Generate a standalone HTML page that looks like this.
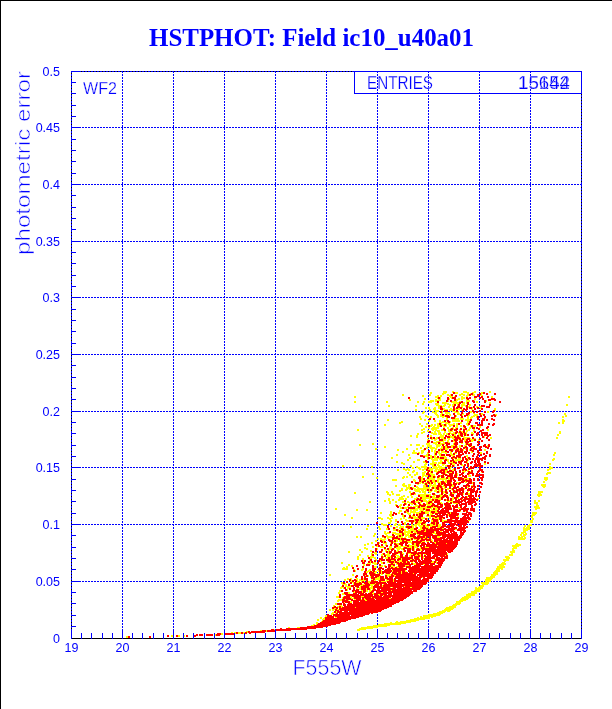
<!DOCTYPE html>
<html><head><meta charset="utf-8"><title>HSTPHOT: Field ic10_u40a01</title><style>html,body{margin:0;padding:0;background:#fff;}body{width:612px;height:709px;overflow:hidden;position:relative;}svg{position:absolute;left:0;top:0;display:block;}text{font-family:"Liberation Sans",Arial,sans-serif;fill:#00f;}.th{stroke:#fff;stroke-width:0.6px;}.tm{stroke:#fff;stroke-width:0.25px;}.t{font-family:"Liberation Serif","Times New Roman",serif;font-weight:bold;font-size:26px;}</style></head><body>
<svg width="612" height="709" viewBox="0 0 612 709">
<rect width="612" height="709" fill="#fff"/><g shape-rendering="crispEdges"><rect x="0" y="0" width="612" height="1" fill="#000"/><rect x="0" y="0" width="1" height="709" fill="#000"/><path fill="none" stroke="#000" d="M71 71.5h511M71 638.5h511M71.5 71v568M581.5 71v568"/>
<path fill="none" stroke="#00f" transform="translate(.5 0)" d="M71 71v2M71 74v2M71 77v2M71 80v2M71 83v2M71 86v2M71 89v2M71 92v2M71 95v2M71 98v2M71 101v2M71 104v2M71 107v2M71 110v2M71 113v2M71 116v2M71 119v2M71 122v2M71 125v2M71 128v2M71 131v2M71 134v2M71 137v2M71 140v2M71 143v2M71 146v2M71 149v2M71 152v2M71 155v2M71 158v2M71 161v2M71 164v2M71 167v2M71 170v2M71 173v2M71 176v2M71 179v2M71 182v2M71 185v2M71 188v2M71 191v2M71 194v2M71 197v2M71 200v2M71 203v2M71 206v2M71 209v2M71 212v2M71 215v2M71 218v2M71 221v2M71 224v2M71 227v2M71 230v2M71 233v2M71 236v2M71 239v2M71 242v2M71 245v2M71 248v2M71 251v2M71 254v2M71 257v2M71 260v2M71 263v2M71 266v2M71 269v2M71 272v2M71 275v2M71 278v2M71 281v2M71 284v2M71 287v2M71 290v2M71 293v2M71 296v2M71 299v2M71 302v2M71 305v2M71 308v2M71 311v2M71 314v2M71 317v2M71 320v2M71 323v2M71 326v2M71 329v2M71 332v2M71 335v2M71 338v2M71 341v2M71 344v2M71 347v2M71 350v2M71 353v2M71 356v2M71 359v2M71 362v2M71 365v2M71 368v2M71 371v2M71 374v2M71 377v2M71 380v2M71 383v2M71 386v2M71 389v2M71 392v2M71 395v2M71 398v2M71 401v2M71 404v2M71 407v2M71 410v2M71 413v2M71 416v2M71 419v2M71 422v2M71 425v2M71 428v2M71 431v2M71 434v2M71 437v2M71 440v2M71 443v2M71 446v2M71 449v2M71 452v2M71 455v2M71 458v2M71 461v2M71 464v2M71 467v2M71 470v2M71 473v2M71 476v2M71 479v2M71 482v2M71 485v2M71 488v2M71 491v2M71 494v2M71 497v2M71 500v2M71 503v2M71 506v2M71 509v2M71 512v2M71 515v2M71 518v2M71 521v2M71 524v2M71 527v2M71 530v2M71 533v2M71 536v2M71 539v2M71 542v2M71 545v2M71 548v2M71 551v2M71 554v2M71 557v2M71 560v2M71 563v2M71 566v2M71 569v2M71 572v2M71 575v2M71 578v2M71 581v2M71 584v2M71 587v2M71 590v2M71 593v2M71 596v2M71 599v2M71 602v2M71 605v2M71 608v2M71 611v2M71 614v2M71 617v2M71 620v2M71 623v2M71 626v2M71 629v2M71 632v2M71 635v2M122 71v2M122 74v2M122 77v2M122 80v2M122 83v2M122 86v2M122 89v2M122 92v2M122 95v2M122 98v2M122 101v2M122 104v2M122 107v2M122 110v2M122 113v2M122 116v2M122 119v2M122 122v2M122 125v2M122 128v2M122 131v2M122 134v2M122 137v2M122 140v2M122 143v2M122 146v2M122 149v2M122 152v2M122 155v2M122 158v2M122 161v2M122 164v2M122 167v2M122 170v2M122 173v2M122 176v2M122 179v2M122 182v2M122 185v2M122 188v2M122 191v2M122 194v2M122 197v2M122 200v2M122 203v2M122 206v2M122 209v2M122 212v2M122 215v2M122 218v2M122 221v2M122 224v2M122 227v2M122 230v2M122 233v2M122 236v2M122 239v2M122 242v2M122 245v2M122 248v2M122 251v2M122 254v2M122 257v2M122 260v2M122 263v2M122 266v2M122 269v2M122 272v2M122 275v2M122 278v2M122 281v2M122 284v2M122 287v2M122 290v2M122 293v2M122 296v2M122 299v2M122 302v2M122 305v2M122 308v2M122 311v2M122 314v2M122 317v2M122 320v2M122 323v2M122 326v2M122 329v2M122 332v2M122 335v2M122 338v2M122 341v2M122 344v2M122 347v2M122 350v2M122 353v2M122 356v2M122 359v2M122 362v2M122 365v2M122 368v2M122 371v2M122 374v2M122 377v2M122 380v2M122 383v2M122 386v2M122 389v2M122 392v2M122 395v2M122 398v2M122 401v2M122 404v2M122 407v2M122 410v2M122 413v2M122 416v2M122 419v2M122 422v2M122 425v2M122 428v2M122 431v2M122 434v2M122 437v2M122 440v2M122 443v2M122 446v2M122 449v2M122 452v2M122 455v2M122 458v2M122 461v2M122 464v2M122 467v2M122 470v2M122 473v2M122 476v2M122 479v2M122 482v2M122 485v2M122 488v2M122 491v2M122 494v2M122 497v2M122 500v2M122 503v2M122 506v2M122 509v2M122 512v2M122 515v2M122 518v2M122 521v2M122 524v2M122 527v2M122 530v2M122 533v2M122 536v2M122 539v2M122 542v2M122 545v2M122 548v2M122 551v2M122 554v2M122 557v2M122 560v2M122 563v2M122 566v2M122 569v2M122 572v2M122 575v2M122 578v2M122 581v2M122 584v2M122 587v2M122 590v2M122 593v2M122 596v2M122 599v2M122 602v2M122 605v2M122 608v2M122 611v2M122 614v2M122 617v2M122 620v2M122 623v2M122 626v2M122 629v2M122 632v2M122 635v2M173 71v2M173 74v2M173 77v2M173 80v2M173 83v2M173 86v2M173 89v2M173 92v2M173 95v2M173 98v2M173 101v2M173 104v2M173 107v2M173 110v2M173 113v2M173 116v2M173 119v2M173 122v2M173 125v2M173 128v2M173 131v2M173 134v2M173 137v2M173 140v2M173 143v2M173 146v2M173 149v2M173 152v2M173 155v2M173 158v2M173 161v2M173 164v2M173 167v2M173 170v2M173 173v2M173 176v2M173 179v2M173 182v2M173 185v2M173 188v2M173 191v2M173 194v2M173 197v2M173 200v2M173 203v2M173 206v2M173 209v2M173 212v2M173 215v2M173 218v2M173 221v2M173 224v2M173 227v2M173 230v2M173 233v2M173 236v2M173 239v2M173 242v2M173 245v2M173 248v2M173 251v2M173 254v2M173 257v2M173 260v2M173 263v2M173 266v2M173 269v2M173 272v2M173 275v2M173 278v2M173 281v2M173 284v2M173 287v2M173 290v2M173 293v2M173 296v2M173 299v2M173 302v2M173 305v2M173 308v2M173 311v2M173 314v2M173 317v2M173 320v2M173 323v2M173 326v2M173 329v2M173 332v2M173 335v2M173 338v2M173 341v2M173 344v2M173 347v2M173 350v2M173 353v2M173 356v2M173 359v2M173 362v2M173 365v2M173 368v2M173 371v2M173 374v2M173 377v2M173 380v2M173 383v2M173 386v2M173 389v2M173 392v2M173 395v2M173 398v2M173 401v2M173 404v2M173 407v2M173 410v2M173 413v2M173 416v2M173 419v2M173 422v2M173 425v2M173 428v2M173 431v2M173 434v2M173 437v2M173 440v2M173 443v2M173 446v2M173 449v2M173 452v2M173 455v2M173 458v2M173 461v2M173 464v2M173 467v2M173 470v2M173 473v2M173 476v2M173 479v2M173 482v2M173 485v2M173 488v2M173 491v2M173 494v2M173 497v2M173 500v2M173 503v2M173 506v2M173 509v2M173 512v2M173 515v2M173 518v2M173 521v2M173 524v2M173 527v2M173 530v2M173 533v2M173 536v2M173 539v2M173 542v2M173 545v2M173 548v2M173 551v2M173 554v2M173 557v2M173 560v2M173 563v2M173 566v2M173 569v2M173 572v2M173 575v2M173 578v2M173 581v2M173 584v2M173 587v2M173 590v2M173 593v2M173 596v2M173 599v2M173 602v2M173 605v2M173 608v2M173 611v2M173 614v2M173 617v2M173 620v2M173 623v2M173 626v2M173 629v2M173 632v2M173 635v2M224 71v2M224 74v2M224 77v2M224 80v2M224 83v2M224 86v2M224 89v2M224 92v2M224 95v2M224 98v2M224 101v2M224 104v2M224 107v2M224 110v2M224 113v2M224 116v2M224 119v2M224 122v2M224 125v2M224 128v2M224 131v2M224 134v2M224 137v2M224 140v2M224 143v2M224 146v2M224 149v2M224 152v2M224 155v2M224 158v2M224 161v2M224 164v2M224 167v2M224 170v2M224 173v2M224 176v2M224 179v2M224 182v2M224 185v2M224 188v2M224 191v2M224 194v2M224 197v2M224 200v2M224 203v2M224 206v2M224 209v2M224 212v2M224 215v2M224 218v2M224 221v2M224 224v2M224 227v2M224 230v2M224 233v2M224 236v2M224 239v2M224 242v2M224 245v2M224 248v2M224 251v2M224 254v2M224 257v2M224 260v2M224 263v2M224 266v2M224 269v2M224 272v2M224 275v2M224 278v2M224 281v2M224 284v2M224 287v2M224 290v2M224 293v2M224 296v2M224 299v2M224 302v2M224 305v2M224 308v2M224 311v2M224 314v2M224 317v2M224 320v2M224 323v2M224 326v2M224 329v2M224 332v2M224 335v2M224 338v2M224 341v2M224 344v2M224 347v2M224 350v2M224 353v2M224 356v2M224 359v2M224 362v2M224 365v2M224 368v2M224 371v2M224 374v2M224 377v2M224 380v2M224 383v2M224 386v2M224 389v2M224 392v2M224 395v2M224 398v2M224 401v2M224 404v2M224 407v2M224 410v2M224 413v2M224 416v2M224 419v2M224 422v2M224 425v2M224 428v2M224 431v2M224 434v2M224 437v2M224 440v2M224 443v2M224 446v2M224 449v2M224 452v2M224 455v2M224 458v2M224 461v2M224 464v2M224 467v2M224 470v2M224 473v2M224 476v2M224 479v2M224 482v2M224 485v2M224 488v2M224 491v2M224 494v2M224 497v2M224 500v2M224 503v2M224 506v2M224 509v2M224 512v2M224 515v2M224 518v2M224 521v2M224 524v2M224 527v2M224 530v2M224 533v2M224 536v2M224 539v2M224 542v2M224 545v2M224 548v2M224 551v2M224 554v2M224 557v2M224 560v2M224 563v2M224 566v2M224 569v2M224 572v2M224 575v2M224 578v2M224 581v2M224 584v2M224 587v2M224 590v2M224 593v2M224 596v2M224 599v2M224 602v2M224 605v2M224 608v2M224 611v2M224 614v2M224 617v2M224 620v2M224 623v2M224 626v2M224 629v2M224 632v2M224 635v2M275 71v2M275 74v2M275 77v2M275 80v2M275 83v2M275 86v2M275 89v2M275 92v2M275 95v2M275 98v2M275 101v2M275 104v2M275 107v2M275 110v2M275 113v2M275 116v2M275 119v2M275 122v2M275 125v2M275 128v2M275 131v2M275 134v2M275 137v2M275 140v2M275 143v2M275 146v2M275 149v2M275 152v2M275 155v2M275 158v2M275 161v2M275 164v2M275 167v2M275 170v2M275 173v2M275 176v2M275 179v2M275 182v2M275 185v2M275 188v2M275 191v2M275 194v2M275 197v2M275 200v2M275 203v2M275 206v2M275 209v2M275 212v2M275 215v2M275 218v2M275 221v2M275 224v2M275 227v2M275 230v2M275 233v2M275 236v2M275 239v2M275 242v2M275 245v2M275 248v2M275 251v2M275 254v2M275 257v2M275 260v2M275 263v2M275 266v2M275 269v2M275 272v2M275 275v2M275 278v2M275 281v2M275 284v2M275 287v2M275 290v2M275 293v2M275 296v2M275 299v2M275 302v2M275 305v2M275 308v2M275 311v2M275 314v2M275 317v2M275 320v2M275 323v2M275 326v2M275 329v2M275 332v2M275 335v2M275 338v2M275 341v2M275 344v2M275 347v2M275 350v2M275 353v2M275 356v2M275 359v2M275 362v2M275 365v2M275 368v2M275 371v2M275 374v2M275 377v2M275 380v2M275 383v2M275 386v2M275 389v2M275 392v2M275 395v2M275 398v2M275 401v2M275 404v2M275 407v2M275 410v2M275 413v2M275 416v2M275 419v2M275 422v2M275 425v2M275 428v2M275 431v2M275 434v2M275 437v2M275 440v2M275 443v2M275 446v2M275 449v2M275 452v2M275 455v2M275 458v2M275 461v2M275 464v2M275 467v2M275 470v2M275 473v2M275 476v2M275 479v2M275 482v2M275 485v2M275 488v2M275 491v2M275 494v2M275 497v2M275 500v2M275 503v2M275 506v2M275 509v2M275 512v2M275 515v2M275 518v2M275 521v2M275 524v2M275 527v2M275 530v2M275 533v2M275 536v2M275 539v2M275 542v2M275 545v2M275 548v2M275 551v2M275 554v2M275 557v2M275 560v2M275 563v2M275 566v2M275 569v2M275 572v2M275 575v2M275 578v2M275 581v2M275 584v2M275 587v2M275 590v2M275 593v2M275 596v2M275 599v2M275 602v2M275 605v2M275 608v2M275 611v2M275 614v2M275 617v2M275 620v2M275 623v2M275 626v2M275 629v2M275 632v2M275 635v2M326 71v2M326 74v2M326 77v2M326 80v2M326 83v2M326 86v2M326 89v2M326 92v2M326 95v2M326 98v2M326 101v2M326 104v2M326 107v2M326 110v2M326 113v2M326 116v2M326 119v2M326 122v2M326 125v2M326 128v2M326 131v2M326 134v2M326 137v2M326 140v2M326 143v2M326 146v2M326 149v2M326 152v2M326 155v2M326 158v2M326 161v2M326 164v2M326 167v2M326 170v2M326 173v2M326 176v2M326 179v2M326 182v2M326 185v2M326 188v2M326 191v2M326 194v2M326 197v2M326 200v2M326 203v2M326 206v2M326 209v2M326 212v2M326 215v2M326 218v2M326 221v2M326 224v2M326 227v2M326 230v2M326 233v2M326 236v2M326 239v2M326 242v2M326 245v2M326 248v2M326 251v2M326 254v2M326 257v2M326 260v2M326 263v2M326 266v2M326 269v2M326 272v2M326 275v2M326 278v2M326 281v2M326 284v2M326 287v2M326 290v2M326 293v2M326 296v2M326 299v2M326 302v2M326 305v2M326 308v2M326 311v2M326 314v2M326 317v2M326 320v2M326 323v2M326 326v2M326 329v2M326 332v2M326 335v2M326 338v2M326 341v2M326 344v2M326 347v2M326 350v2M326 353v2M326 356v2M326 359v2M326 362v2M326 365v2M326 368v2M326 371v2M326 374v2M326 377v2M326 380v2M326 383v2M326 386v2M326 389v2M326 392v2M326 395v2M326 398v2M326 401v2M326 404v2M326 407v2M326 410v2M326 413v2M326 416v2M326 419v2M326 422v2M326 425v2M326 428v2M326 431v2M326 434v2M326 437v2M326 440v2M326 443v2M326 446v2M326 449v2M326 452v2M326 455v2M326 458v2M326 461v2M326 464v2M326 467v2M326 470v2M326 473v2M326 476v2M326 479v2M326 482v2M326 485v2M326 488v2M326 491v2M326 494v2M326 497v2M326 500v2M326 503v2M326 506v2M326 509v2M326 512v2M326 515v2M326 518v2M326 521v2M326 524v2M326 527v2M326 530v2M326 533v2M326 536v2M326 539v2M326 542v2M326 545v2M326 548v2M326 551v2M326 554v2M326 557v2M326 560v2M326 563v2M326 566v2M326 569v2M326 572v2M326 575v2M326 578v2M326 581v2M326 584v2M326 587v2M326 590v2M326 593v2M326 596v2M326 599v2M326 602v2M326 605v2M326 608v2M326 611v2M326 614v2M326 617v2M326 620v2M326 623v2M326 626v2M326 629v2M326 632v2M326 635v2M377 71v2M377 74v2M377 77v2M377 80v2M377 83v2M377 86v2M377 89v2M377 92v2M377 95v2M377 98v2M377 101v2M377 104v2M377 107v2M377 110v2M377 113v2M377 116v2M377 119v2M377 122v2M377 125v2M377 128v2M377 131v2M377 134v2M377 137v2M377 140v2M377 143v2M377 146v2M377 149v2M377 152v2M377 155v2M377 158v2M377 161v2M377 164v2M377 167v2M377 170v2M377 173v2M377 176v2M377 179v2M377 182v2M377 185v2M377 188v2M377 191v2M377 194v2M377 197v2M377 200v2M377 203v2M377 206v2M377 209v2M377 212v2M377 215v2M377 218v2M377 221v2M377 224v2M377 227v2M377 230v2M377 233v2M377 236v2M377 239v2M377 242v2M377 245v2M377 248v2M377 251v2M377 254v2M377 257v2M377 260v2M377 263v2M377 266v2M377 269v2M377 272v2M377 275v2M377 278v2M377 281v2M377 284v2M377 287v2M377 290v2M377 293v2M377 296v2M377 299v2M377 302v2M377 305v2M377 308v2M377 311v2M377 314v2M377 317v2M377 320v2M377 323v2M377 326v2M377 329v2M377 332v2M377 335v2M377 338v2M377 341v2M377 344v2M377 347v2M377 350v2M377 353v2M377 356v2M377 359v2M377 362v2M377 365v2M377 368v2M377 371v2M377 374v2M377 377v2M377 380v2M377 383v2M377 386v2M377 389v2M377 392v2M377 395v2M377 398v2M377 401v2M377 404v2M377 407v2M377 410v2M377 413v2M377 416v2M377 419v2M377 422v2M377 425v2M377 428v2M377 431v2M377 434v2M377 437v2M377 440v2M377 443v2M377 446v2M377 449v2M377 452v2M377 455v2M377 458v2M377 461v2M377 464v2M377 467v2M377 470v2M377 473v2M377 476v2M377 479v2M377 482v2M377 485v2M377 488v2M377 491v2M377 494v2M377 497v2M377 500v2M377 503v2M377 506v2M377 509v2M377 512v2M377 515v2M377 518v2M377 521v2M377 524v2M377 527v2M377 530v2M377 533v2M377 536v2M377 539v2M377 542v2M377 545v2M377 548v2M377 551v2M377 554v2M377 557v2M377 560v2M377 563v2M377 566v2M377 569v2M377 572v2M377 575v2M377 578v2M377 581v2M377 584v2M377 587v2M377 590v2M377 593v2M377 596v2M377 599v2M377 602v2M377 605v2M377 608v2M377 611v2M377 614v2M377 617v2M377 620v2M377 623v2M377 626v2M377 629v2M377 632v2M377 635v2M428 71v2M428 74v2M428 77v2M428 80v2M428 83v2M428 86v2M428 89v2M428 92v2M428 95v2M428 98v2M428 101v2M428 104v2M428 107v2M428 110v2M428 113v2M428 116v2M428 119v2M428 122v2M428 125v2M428 128v2M428 131v2M428 134v2M428 137v2M428 140v2M428 143v2M428 146v2M428 149v2M428 152v2M428 155v2M428 158v2M428 161v2M428 164v2M428 167v2M428 170v2M428 173v2M428 176v2M428 179v2M428 182v2M428 185v2M428 188v2M428 191v2M428 194v2M428 197v2M428 200v2M428 203v2M428 206v2M428 209v2M428 212v2M428 215v2M428 218v2M428 221v2M428 224v2M428 227v2M428 230v2M428 233v2M428 236v2M428 239v2M428 242v2M428 245v2M428 248v2M428 251v2M428 254v2M428 257v2M428 260v2M428 263v2M428 266v2M428 269v2M428 272v2M428 275v2M428 278v2M428 281v2M428 284v2M428 287v2M428 290v2M428 293v2M428 296v2M428 299v2M428 302v2M428 305v2M428 308v2M428 311v2M428 314v2M428 317v2M428 320v2M428 323v2M428 326v2M428 329v2M428 332v2M428 335v2M428 338v2M428 341v2M428 344v2M428 347v2M428 350v2M428 353v2M428 356v2M428 359v2M428 362v2M428 365v2M428 368v2M428 371v2M428 374v2M428 377v2M428 380v2M428 383v2M428 386v2M428 389v2M428 392v2M428 395v2M428 398v2M428 401v2M428 404v2M428 407v2M428 410v2M428 413v2M428 416v2M428 419v2M428 422v2M428 425v2M428 428v2M428 431v2M428 434v2M428 437v2M428 440v2M428 443v2M428 446v2M428 449v2M428 452v2M428 455v2M428 458v2M428 461v2M428 464v2M428 467v2M428 470v2M428 473v2M428 476v2M428 479v2M428 482v2M428 485v2M428 488v2M428 491v2M428 494v2M428 497v2M428 500v2M428 503v2M428 506v2M428 509v2M428 512v2M428 515v2M428 518v2M428 521v2M428 524v2M428 527v2M428 530v2M428 533v2M428 536v2M428 539v2M428 542v2M428 545v2M428 548v2M428 551v2M428 554v2M428 557v2M428 560v2M428 563v2M428 566v2M428 569v2M428 572v2M428 575v2M428 578v2M428 581v2M428 584v2M428 587v2M428 590v2M428 593v2M428 596v2M428 599v2M428 602v2M428 605v2M428 608v2M428 611v2M428 614v2M428 617v2M428 620v2M428 623v2M428 626v2M428 629v2M428 632v2M428 635v2M479 71v2M479 74v2M479 77v2M479 80v2M479 83v2M479 86v2M479 89v2M479 92v2M479 95v2M479 98v2M479 101v2M479 104v2M479 107v2M479 110v2M479 113v2M479 116v2M479 119v2M479 122v2M479 125v2M479 128v2M479 131v2M479 134v2M479 137v2M479 140v2M479 143v2M479 146v2M479 149v2M479 152v2M479 155v2M479 158v2M479 161v2M479 164v2M479 167v2M479 170v2M479 173v2M479 176v2M479 179v2M479 182v2M479 185v2M479 188v2M479 191v2M479 194v2M479 197v2M479 200v2M479 203v2M479 206v2M479 209v2M479 212v2M479 215v2M479 218v2M479 221v2M479 224v2M479 227v2M479 230v2M479 233v2M479 236v2M479 239v2M479 242v2M479 245v2M479 248v2M479 251v2M479 254v2M479 257v2M479 260v2M479 263v2M479 266v2M479 269v2M479 272v2M479 275v2M479 278v2M479 281v2M479 284v2M479 287v2M479 290v2M479 293v2M479 296v2M479 299v2M479 302v2M479 305v2M479 308v2M479 311v2M479 314v2M479 317v2M479 320v2M479 323v2M479 326v2M479 329v2M479 332v2M479 335v2M479 338v2M479 341v2M479 344v2M479 347v2M479 350v2M479 353v2M479 356v2M479 359v2M479 362v2M479 365v2M479 368v2M479 371v2M479 374v2M479 377v2M479 380v2M479 383v2M479 386v2M479 389v2M479 392v2M479 395v2M479 398v2M479 401v2M479 404v2M479 407v2M479 410v2M479 413v2M479 416v2M479 419v2M479 422v2M479 425v2M479 428v2M479 431v2M479 434v2M479 437v2M479 440v2M479 443v2M479 446v2M479 449v2M479 452v2M479 455v2M479 458v2M479 461v2M479 464v2M479 467v2M479 470v2M479 473v2M479 476v2M479 479v2M479 482v2M479 485v2M479 488v2M479 491v2M479 494v2M479 497v2M479 500v2M479 503v2M479 506v2M479 509v2M479 512v2M479 515v2M479 518v2M479 521v2M479 524v2M479 527v2M479 530v2M479 533v2M479 536v2M479 539v2M479 542v2M479 545v2M479 548v2M479 551v2M479 554v2M479 557v2M479 560v2M479 563v2M479 566v2M479 569v2M479 572v2M479 575v2M479 578v2M479 581v2M479 584v2M479 587v2M479 590v2M479 593v2M479 596v2M479 599v2M479 602v2M479 605v2M479 608v2M479 611v2M479 614v2M479 617v2M479 620v2M479 623v2M479 626v2M479 629v2M479 632v2M479 635v2M530 71v2M530 74v2M530 77v2M530 80v2M530 83v2M530 86v2M530 89v2M530 92v2M530 95v2M530 98v2M530 101v2M530 104v2M530 107v2M530 110v2M530 113v2M530 116v2M530 119v2M530 122v2M530 125v2M530 128v2M530 131v2M530 134v2M530 137v2M530 140v2M530 143v2M530 146v2M530 149v2M530 152v2M530 155v2M530 158v2M530 161v2M530 164v2M530 167v2M530 170v2M530 173v2M530 176v2M530 179v2M530 182v2M530 185v2M530 188v2M530 191v2M530 194v2M530 197v2M530 200v2M530 203v2M530 206v2M530 209v2M530 212v2M530 215v2M530 218v2M530 221v2M530 224v2M530 227v2M530 230v2M530 233v2M530 236v2M530 239v2M530 242v2M530 245v2M530 248v2M530 251v2M530 254v2M530 257v2M530 260v2M530 263v2M530 266v2M530 269v2M530 272v2M530 275v2M530 278v2M530 281v2M530 284v2M530 287v2M530 290v2M530 293v2M530 296v2M530 299v2M530 302v2M530 305v2M530 308v2M530 311v2M530 314v2M530 317v2M530 320v2M530 323v2M530 326v2M530 329v2M530 332v2M530 335v2M530 338v2M530 341v2M530 344v2M530 347v2M530 350v2M530 353v2M530 356v2M530 359v2M530 362v2M530 365v2M530 368v2M530 371v2M530 374v2M530 377v2M530 380v2M530 383v2M530 386v2M530 389v2M530 392v2M530 395v2M530 398v2M530 401v2M530 404v2M530 407v2M530 410v2M530 413v2M530 416v2M530 419v2M530 422v2M530 425v2M530 428v2M530 431v2M530 434v2M530 437v2M530 440v2M530 443v2M530 446v2M530 449v2M530 452v2M530 455v2M530 458v2M530 461v2M530 464v2M530 467v2M530 470v2M530 473v2M530 476v2M530 479v2M530 482v2M530 485v2M530 488v2M530 491v2M530 494v2M530 497v2M530 500v2M530 503v2M530 506v2M530 509v2M530 512v2M530 515v2M530 518v2M530 521v2M530 524v2M530 527v2M530 530v2M530 533v2M530 536v2M530 539v2M530 542v2M530 545v2M530 548v2M530 551v2M530 554v2M530 557v2M530 560v2M530 563v2M530 566v2M530 569v2M530 572v2M530 575v2M530 578v2M530 581v2M530 584v2M530 587v2M530 590v2M530 593v2M530 596v2M530 599v2M530 602v2M530 605v2M530 608v2M530 611v2M530 614v2M530 617v2M530 620v2M530 623v2M530 626v2M530 629v2M530 632v2M530 635v2M581 71v2M581 74v2M581 77v2M581 80v2M581 83v2M581 86v2M581 89v2M581 92v2M581 95v2M581 98v2M581 101v2M581 104v2M581 107v2M581 110v2M581 113v2M581 116v2M581 119v2M581 122v2M581 125v2M581 128v2M581 131v2M581 134v2M581 137v2M581 140v2M581 143v2M581 146v2M581 149v2M581 152v2M581 155v2M581 158v2M581 161v2M581 164v2M581 167v2M581 170v2M581 173v2M581 176v2M581 179v2M581 182v2M581 185v2M581 188v2M581 191v2M581 194v2M581 197v2M581 200v2M581 203v2M581 206v2M581 209v2M581 212v2M581 215v2M581 218v2M581 221v2M581 224v2M581 227v2M581 230v2M581 233v2M581 236v2M581 239v2M581 242v2M581 245v2M581 248v2M581 251v2M581 254v2M581 257v2M581 260v2M581 263v2M581 266v2M581 269v2M581 272v2M581 275v2M581 278v2M581 281v2M581 284v2M581 287v2M581 290v2M581 293v2M581 296v2M581 299v2M581 302v2M581 305v2M581 308v2M581 311v2M581 314v2M581 317v2M581 320v2M581 323v2M581 326v2M581 329v2M581 332v2M581 335v2M581 338v2M581 341v2M581 344v2M581 347v2M581 350v2M581 353v2M581 356v2M581 359v2M581 362v2M581 365v2M581 368v2M581 371v2M581 374v2M581 377v2M581 380v2M581 383v2M581 386v2M581 389v2M581 392v2M581 395v2M581 398v2M581 401v2M581 404v2M581 407v2M581 410v2M581 413v2M581 416v2M581 419v2M581 422v2M581 425v2M581 428v2M581 431v2M581 434v2M581 437v2M581 440v2M581 443v2M581 446v2M581 449v2M581 452v2M581 455v2M581 458v2M581 461v2M581 464v2M581 467v2M581 470v2M581 473v2M581 476v2M581 479v2M581 482v2M581 485v2M581 488v2M581 491v2M581 494v2M581 497v2M581 500v2M581 503v2M581 506v2M581 509v2M581 512v2M581 515v2M581 518v2M581 521v2M581 524v2M581 527v2M581 530v2M581 533v2M581 536v2M581 539v2M581 542v2M581 545v2M581 548v2M581 551v2M581 554v2M581 557v2M581 560v2M581 563v2M581 566v2M581 569v2M581 572v2M581 575v2M581 578v2M581 581v2M581 584v2M581 587v2M581 590v2M581 593v2M581 596v2M581 599v2M581 602v2M581 605v2M581 608v2M581 611v2M581 614v2M581 617v2M581 620v2M581 623v2M581 626v2M581 629v2M581 632v2M581 635v2"/>
<path fill="none" stroke="#00f" transform="translate(0 .5)" d="M71 581h1M73 581h2M76 581h2M79 581h2M82 581h2M85 581h2M88 581h2M91 581h2M94 581h2M97 581h2M100 581h2M103 581h2M106 581h2M109 581h2M112 581h2M115 581h2M118 581h2M121 581h2M124 581h2M127 581h2M130 581h2M133 581h2M136 581h2M139 581h2M142 581h2M145 581h2M148 581h2M151 581h2M154 581h2M157 581h2M160 581h2M163 581h2M166 581h2M169 581h2M172 581h2M175 581h2M178 581h2M181 581h2M184 581h2M187 581h2M190 581h2M193 581h2M196 581h2M199 581h2M202 581h2M205 581h2M208 581h2M211 581h2M214 581h2M217 581h2M220 581h2M223 581h2M226 581h2M229 581h2M232 581h2M235 581h2M238 581h2M241 581h2M244 581h2M247 581h2M250 581h2M253 581h2M256 581h2M259 581h2M262 581h2M265 581h2M268 581h2M271 581h2M274 581h2M277 581h2M280 581h2M283 581h2M286 581h2M289 581h2M292 581h2M295 581h2M298 581h2M301 581h2M304 581h2M307 581h2M310 581h2M313 581h2M316 581h2M319 581h2M322 581h2M325 581h2M328 581h2M331 581h2M334 581h2M337 581h2M340 581h2M343 581h2M346 581h2M349 581h2M352 581h2M355 581h2M358 581h2M361 581h2M364 581h2M367 581h2M370 581h2M373 581h2M376 581h2M379 581h2M382 581h2M385 581h2M388 581h2M391 581h2M394 581h2M397 581h2M400 581h2M403 581h2M406 581h2M409 581h2M412 581h2M415 581h2M418 581h2M421 581h2M424 581h2M427 581h2M430 581h2M433 581h2M436 581h2M439 581h2M442 581h2M445 581h2M448 581h2M451 581h2M454 581h2M457 581h2M460 581h2M463 581h2M466 581h2M469 581h2M472 581h2M475 581h2M478 581h2M481 581h2M484 581h2M487 581h2M490 581h2M493 581h2M496 581h2M499 581h2M502 581h2M505 581h2M508 581h2M511 581h2M514 581h2M517 581h2M520 581h2M523 581h2M526 581h2M529 581h2M532 581h2M535 581h2M538 581h2M541 581h2M544 581h2M547 581h2M550 581h2M553 581h2M556 581h2M559 581h2M562 581h2M565 581h2M568 581h2M571 581h2M574 581h2M577 581h2M580 581h2M71 524h1M73 524h2M76 524h2M79 524h2M82 524h2M85 524h2M88 524h2M91 524h2M94 524h2M97 524h2M100 524h2M103 524h2M106 524h2M109 524h2M112 524h2M115 524h2M118 524h2M121 524h2M124 524h2M127 524h2M130 524h2M133 524h2M136 524h2M139 524h2M142 524h2M145 524h2M148 524h2M151 524h2M154 524h2M157 524h2M160 524h2M163 524h2M166 524h2M169 524h2M172 524h2M175 524h2M178 524h2M181 524h2M184 524h2M187 524h2M190 524h2M193 524h2M196 524h2M199 524h2M202 524h2M205 524h2M208 524h2M211 524h2M214 524h2M217 524h2M220 524h2M223 524h2M226 524h2M229 524h2M232 524h2M235 524h2M238 524h2M241 524h2M244 524h2M247 524h2M250 524h2M253 524h2M256 524h2M259 524h2M262 524h2M265 524h2M268 524h2M271 524h2M274 524h2M277 524h2M280 524h2M283 524h2M286 524h2M289 524h2M292 524h2M295 524h2M298 524h2M301 524h2M304 524h2M307 524h2M310 524h2M313 524h2M316 524h2M319 524h2M322 524h2M325 524h2M328 524h2M331 524h2M334 524h2M337 524h2M340 524h2M343 524h2M346 524h2M349 524h2M352 524h2M355 524h2M358 524h2M361 524h2M364 524h2M367 524h2M370 524h2M373 524h2M376 524h2M379 524h2M382 524h2M385 524h2M388 524h2M391 524h2M394 524h2M397 524h2M400 524h2M403 524h2M406 524h2M409 524h2M412 524h2M415 524h2M418 524h2M421 524h2M424 524h2M427 524h2M430 524h2M433 524h2M436 524h2M439 524h2M442 524h2M445 524h2M448 524h2M451 524h2M454 524h2M457 524h2M460 524h2M463 524h2M466 524h2M469 524h2M472 524h2M475 524h2M478 524h2M481 524h2M484 524h2M487 524h2M490 524h2M493 524h2M496 524h2M499 524h2M502 524h2M505 524h2M508 524h2M511 524h2M514 524h2M517 524h2M520 524h2M523 524h2M526 524h2M529 524h2M532 524h2M535 524h2M538 524h2M541 524h2M544 524h2M547 524h2M550 524h2M553 524h2M556 524h2M559 524h2M562 524h2M565 524h2M568 524h2M571 524h2M574 524h2M577 524h2M580 524h2M71 467h1M73 467h2M76 467h2M79 467h2M82 467h2M85 467h2M88 467h2M91 467h2M94 467h2M97 467h2M100 467h2M103 467h2M106 467h2M109 467h2M112 467h2M115 467h2M118 467h2M121 467h2M124 467h2M127 467h2M130 467h2M133 467h2M136 467h2M139 467h2M142 467h2M145 467h2M148 467h2M151 467h2M154 467h2M157 467h2M160 467h2M163 467h2M166 467h2M169 467h2M172 467h2M175 467h2M178 467h2M181 467h2M184 467h2M187 467h2M190 467h2M193 467h2M196 467h2M199 467h2M202 467h2M205 467h2M208 467h2M211 467h2M214 467h2M217 467h2M220 467h2M223 467h2M226 467h2M229 467h2M232 467h2M235 467h2M238 467h2M241 467h2M244 467h2M247 467h2M250 467h2M253 467h2M256 467h2M259 467h2M262 467h2M265 467h2M268 467h2M271 467h2M274 467h2M277 467h2M280 467h2M283 467h2M286 467h2M289 467h2M292 467h2M295 467h2M298 467h2M301 467h2M304 467h2M307 467h2M310 467h2M313 467h2M316 467h2M319 467h2M322 467h2M325 467h2M328 467h2M331 467h2M334 467h2M337 467h2M340 467h2M343 467h2M346 467h2M349 467h2M352 467h2M355 467h2M358 467h2M361 467h2M364 467h2M367 467h2M370 467h2M373 467h2M376 467h2M379 467h2M382 467h2M385 467h2M388 467h2M391 467h2M394 467h2M397 467h2M400 467h2M403 467h2M406 467h2M409 467h2M412 467h2M415 467h2M418 467h2M421 467h2M424 467h2M427 467h2M430 467h2M433 467h2M436 467h2M439 467h2M442 467h2M445 467h2M448 467h2M451 467h2M454 467h2M457 467h2M460 467h2M463 467h2M466 467h2M469 467h2M472 467h2M475 467h2M478 467h2M481 467h2M484 467h2M487 467h2M490 467h2M493 467h2M496 467h2M499 467h2M502 467h2M505 467h2M508 467h2M511 467h2M514 467h2M517 467h2M520 467h2M523 467h2M526 467h2M529 467h2M532 467h2M535 467h2M538 467h2M541 467h2M544 467h2M547 467h2M550 467h2M553 467h2M556 467h2M559 467h2M562 467h2M565 467h2M568 467h2M571 467h2M574 467h2M577 467h2M580 467h2M71 411h1M73 411h2M76 411h2M79 411h2M82 411h2M85 411h2M88 411h2M91 411h2M94 411h2M97 411h2M100 411h2M103 411h2M106 411h2M109 411h2M112 411h2M115 411h2M118 411h2M121 411h2M124 411h2M127 411h2M130 411h2M133 411h2M136 411h2M139 411h2M142 411h2M145 411h2M148 411h2M151 411h2M154 411h2M157 411h2M160 411h2M163 411h2M166 411h2M169 411h2M172 411h2M175 411h2M178 411h2M181 411h2M184 411h2M187 411h2M190 411h2M193 411h2M196 411h2M199 411h2M202 411h2M205 411h2M208 411h2M211 411h2M214 411h2M217 411h2M220 411h2M223 411h2M226 411h2M229 411h2M232 411h2M235 411h2M238 411h2M241 411h2M244 411h2M247 411h2M250 411h2M253 411h2M256 411h2M259 411h2M262 411h2M265 411h2M268 411h2M271 411h2M274 411h2M277 411h2M280 411h2M283 411h2M286 411h2M289 411h2M292 411h2M295 411h2M298 411h2M301 411h2M304 411h2M307 411h2M310 411h2M313 411h2M316 411h2M319 411h2M322 411h2M325 411h2M328 411h2M331 411h2M334 411h2M337 411h2M340 411h2M343 411h2M346 411h2M349 411h2M352 411h2M355 411h2M358 411h2M361 411h2M364 411h2M367 411h2M370 411h2M373 411h2M376 411h2M379 411h2M382 411h2M385 411h2M388 411h2M391 411h2M394 411h2M397 411h2M400 411h2M403 411h2M406 411h2M409 411h2M412 411h2M415 411h2M418 411h2M421 411h2M424 411h2M427 411h2M430 411h2M433 411h2M436 411h2M439 411h2M442 411h2M445 411h2M448 411h2M451 411h2M454 411h2M457 411h2M460 411h2M463 411h2M466 411h2M469 411h2M472 411h2M475 411h2M478 411h2M481 411h2M484 411h2M487 411h2M490 411h2M493 411h2M496 411h2M499 411h2M502 411h2M505 411h2M508 411h2M511 411h2M514 411h2M517 411h2M520 411h2M523 411h2M526 411h2M529 411h2M532 411h2M535 411h2M538 411h2M541 411h2M544 411h2M547 411h2M550 411h2M553 411h2M556 411h2M559 411h2M562 411h2M565 411h2M568 411h2M571 411h2M574 411h2M577 411h2M580 411h2M71 354h1M73 354h2M76 354h2M79 354h2M82 354h2M85 354h2M88 354h2M91 354h2M94 354h2M97 354h2M100 354h2M103 354h2M106 354h2M109 354h2M112 354h2M115 354h2M118 354h2M121 354h2M124 354h2M127 354h2M130 354h2M133 354h2M136 354h2M139 354h2M142 354h2M145 354h2M148 354h2M151 354h2M154 354h2M157 354h2M160 354h2M163 354h2M166 354h2M169 354h2M172 354h2M175 354h2M178 354h2M181 354h2M184 354h2M187 354h2M190 354h2M193 354h2M196 354h2M199 354h2M202 354h2M205 354h2M208 354h2M211 354h2M214 354h2M217 354h2M220 354h2M223 354h2M226 354h2M229 354h2M232 354h2M235 354h2M238 354h2M241 354h2M244 354h2M247 354h2M250 354h2M253 354h2M256 354h2M259 354h2M262 354h2M265 354h2M268 354h2M271 354h2M274 354h2M277 354h2M280 354h2M283 354h2M286 354h2M289 354h2M292 354h2M295 354h2M298 354h2M301 354h2M304 354h2M307 354h2M310 354h2M313 354h2M316 354h2M319 354h2M322 354h2M325 354h2M328 354h2M331 354h2M334 354h2M337 354h2M340 354h2M343 354h2M346 354h2M349 354h2M352 354h2M355 354h2M358 354h2M361 354h2M364 354h2M367 354h2M370 354h2M373 354h2M376 354h2M379 354h2M382 354h2M385 354h2M388 354h2M391 354h2M394 354h2M397 354h2M400 354h2M403 354h2M406 354h2M409 354h2M412 354h2M415 354h2M418 354h2M421 354h2M424 354h2M427 354h2M430 354h2M433 354h2M436 354h2M439 354h2M442 354h2M445 354h2M448 354h2M451 354h2M454 354h2M457 354h2M460 354h2M463 354h2M466 354h2M469 354h2M472 354h2M475 354h2M478 354h2M481 354h2M484 354h2M487 354h2M490 354h2M493 354h2M496 354h2M499 354h2M502 354h2M505 354h2M508 354h2M511 354h2M514 354h2M517 354h2M520 354h2M523 354h2M526 354h2M529 354h2M532 354h2M535 354h2M538 354h2M541 354h2M544 354h2M547 354h2M550 354h2M553 354h2M556 354h2M559 354h2M562 354h2M565 354h2M568 354h2M571 354h2M574 354h2M577 354h2M580 354h2M71 297h1M73 297h2M76 297h2M79 297h2M82 297h2M85 297h2M88 297h2M91 297h2M94 297h2M97 297h2M100 297h2M103 297h2M106 297h2M109 297h2M112 297h2M115 297h2M118 297h2M121 297h2M124 297h2M127 297h2M130 297h2M133 297h2M136 297h2M139 297h2M142 297h2M145 297h2M148 297h2M151 297h2M154 297h2M157 297h2M160 297h2M163 297h2M166 297h2M169 297h2M172 297h2M175 297h2M178 297h2M181 297h2M184 297h2M187 297h2M190 297h2M193 297h2M196 297h2M199 297h2M202 297h2M205 297h2M208 297h2M211 297h2M214 297h2M217 297h2M220 297h2M223 297h2M226 297h2M229 297h2M232 297h2M235 297h2M238 297h2M241 297h2M244 297h2M247 297h2M250 297h2M253 297h2M256 297h2M259 297h2M262 297h2M265 297h2M268 297h2M271 297h2M274 297h2M277 297h2M280 297h2M283 297h2M286 297h2M289 297h2M292 297h2M295 297h2M298 297h2M301 297h2M304 297h2M307 297h2M310 297h2M313 297h2M316 297h2M319 297h2M322 297h2M325 297h2M328 297h2M331 297h2M334 297h2M337 297h2M340 297h2M343 297h2M346 297h2M349 297h2M352 297h2M355 297h2M358 297h2M361 297h2M364 297h2M367 297h2M370 297h2M373 297h2M376 297h2M379 297h2M382 297h2M385 297h2M388 297h2M391 297h2M394 297h2M397 297h2M400 297h2M403 297h2M406 297h2M409 297h2M412 297h2M415 297h2M418 297h2M421 297h2M424 297h2M427 297h2M430 297h2M433 297h2M436 297h2M439 297h2M442 297h2M445 297h2M448 297h2M451 297h2M454 297h2M457 297h2M460 297h2M463 297h2M466 297h2M469 297h2M472 297h2M475 297h2M478 297h2M481 297h2M484 297h2M487 297h2M490 297h2M493 297h2M496 297h2M499 297h2M502 297h2M505 297h2M508 297h2M511 297h2M514 297h2M517 297h2M520 297h2M523 297h2M526 297h2M529 297h2M532 297h2M535 297h2M538 297h2M541 297h2M544 297h2M547 297h2M550 297h2M553 297h2M556 297h2M559 297h2M562 297h2M565 297h2M568 297h2M571 297h2M574 297h2M577 297h2M580 297h2M71 241h1M73 241h2M76 241h2M79 241h2M82 241h2M85 241h2M88 241h2M91 241h2M94 241h2M97 241h2M100 241h2M103 241h2M106 241h2M109 241h2M112 241h2M115 241h2M118 241h2M121 241h2M124 241h2M127 241h2M130 241h2M133 241h2M136 241h2M139 241h2M142 241h2M145 241h2M148 241h2M151 241h2M154 241h2M157 241h2M160 241h2M163 241h2M166 241h2M169 241h2M172 241h2M175 241h2M178 241h2M181 241h2M184 241h2M187 241h2M190 241h2M193 241h2M196 241h2M199 241h2M202 241h2M205 241h2M208 241h2M211 241h2M214 241h2M217 241h2M220 241h2M223 241h2M226 241h2M229 241h2M232 241h2M235 241h2M238 241h2M241 241h2M244 241h2M247 241h2M250 241h2M253 241h2M256 241h2M259 241h2M262 241h2M265 241h2M268 241h2M271 241h2M274 241h2M277 241h2M280 241h2M283 241h2M286 241h2M289 241h2M292 241h2M295 241h2M298 241h2M301 241h2M304 241h2M307 241h2M310 241h2M313 241h2M316 241h2M319 241h2M322 241h2M325 241h2M328 241h2M331 241h2M334 241h2M337 241h2M340 241h2M343 241h2M346 241h2M349 241h2M352 241h2M355 241h2M358 241h2M361 241h2M364 241h2M367 241h2M370 241h2M373 241h2M376 241h2M379 241h2M382 241h2M385 241h2M388 241h2M391 241h2M394 241h2M397 241h2M400 241h2M403 241h2M406 241h2M409 241h2M412 241h2M415 241h2M418 241h2M421 241h2M424 241h2M427 241h2M430 241h2M433 241h2M436 241h2M439 241h2M442 241h2M445 241h2M448 241h2M451 241h2M454 241h2M457 241h2M460 241h2M463 241h2M466 241h2M469 241h2M472 241h2M475 241h2M478 241h2M481 241h2M484 241h2M487 241h2M490 241h2M493 241h2M496 241h2M499 241h2M502 241h2M505 241h2M508 241h2M511 241h2M514 241h2M517 241h2M520 241h2M523 241h2M526 241h2M529 241h2M532 241h2M535 241h2M538 241h2M541 241h2M544 241h2M547 241h2M550 241h2M553 241h2M556 241h2M559 241h2M562 241h2M565 241h2M568 241h2M571 241h2M574 241h2M577 241h2M580 241h2M71 184h1M73 184h2M76 184h2M79 184h2M82 184h2M85 184h2M88 184h2M91 184h2M94 184h2M97 184h2M100 184h2M103 184h2M106 184h2M109 184h2M112 184h2M115 184h2M118 184h2M121 184h2M124 184h2M127 184h2M130 184h2M133 184h2M136 184h2M139 184h2M142 184h2M145 184h2M148 184h2M151 184h2M154 184h2M157 184h2M160 184h2M163 184h2M166 184h2M169 184h2M172 184h2M175 184h2M178 184h2M181 184h2M184 184h2M187 184h2M190 184h2M193 184h2M196 184h2M199 184h2M202 184h2M205 184h2M208 184h2M211 184h2M214 184h2M217 184h2M220 184h2M223 184h2M226 184h2M229 184h2M232 184h2M235 184h2M238 184h2M241 184h2M244 184h2M247 184h2M250 184h2M253 184h2M256 184h2M259 184h2M262 184h2M265 184h2M268 184h2M271 184h2M274 184h2M277 184h2M280 184h2M283 184h2M286 184h2M289 184h2M292 184h2M295 184h2M298 184h2M301 184h2M304 184h2M307 184h2M310 184h2M313 184h2M316 184h2M319 184h2M322 184h2M325 184h2M328 184h2M331 184h2M334 184h2M337 184h2M340 184h2M343 184h2M346 184h2M349 184h2M352 184h2M355 184h2M358 184h2M361 184h2M364 184h2M367 184h2M370 184h2M373 184h2M376 184h2M379 184h2M382 184h2M385 184h2M388 184h2M391 184h2M394 184h2M397 184h2M400 184h2M403 184h2M406 184h2M409 184h2M412 184h2M415 184h2M418 184h2M421 184h2M424 184h2M427 184h2M430 184h2M433 184h2M436 184h2M439 184h2M442 184h2M445 184h2M448 184h2M451 184h2M454 184h2M457 184h2M460 184h2M463 184h2M466 184h2M469 184h2M472 184h2M475 184h2M478 184h2M481 184h2M484 184h2M487 184h2M490 184h2M493 184h2M496 184h2M499 184h2M502 184h2M505 184h2M508 184h2M511 184h2M514 184h2M517 184h2M520 184h2M523 184h2M526 184h2M529 184h2M532 184h2M535 184h2M538 184h2M541 184h2M544 184h2M547 184h2M550 184h2M553 184h2M556 184h2M559 184h2M562 184h2M565 184h2M568 184h2M571 184h2M574 184h2M577 184h2M580 184h2M71 127h1M73 127h2M76 127h2M79 127h2M82 127h2M85 127h2M88 127h2M91 127h2M94 127h2M97 127h2M100 127h2M103 127h2M106 127h2M109 127h2M112 127h2M115 127h2M118 127h2M121 127h2M124 127h2M127 127h2M130 127h2M133 127h2M136 127h2M139 127h2M142 127h2M145 127h2M148 127h2M151 127h2M154 127h2M157 127h2M160 127h2M163 127h2M166 127h2M169 127h2M172 127h2M175 127h2M178 127h2M181 127h2M184 127h2M187 127h2M190 127h2M193 127h2M196 127h2M199 127h2M202 127h2M205 127h2M208 127h2M211 127h2M214 127h2M217 127h2M220 127h2M223 127h2M226 127h2M229 127h2M232 127h2M235 127h2M238 127h2M241 127h2M244 127h2M247 127h2M250 127h2M253 127h2M256 127h2M259 127h2M262 127h2M265 127h2M268 127h2M271 127h2M274 127h2M277 127h2M280 127h2M283 127h2M286 127h2M289 127h2M292 127h2M295 127h2M298 127h2M301 127h2M304 127h2M307 127h2M310 127h2M313 127h2M316 127h2M319 127h2M322 127h2M325 127h2M328 127h2M331 127h2M334 127h2M337 127h2M340 127h2M343 127h2M346 127h2M349 127h2M352 127h2M355 127h2M358 127h2M361 127h2M364 127h2M367 127h2M370 127h2M373 127h2M376 127h2M379 127h2M382 127h2M385 127h2M388 127h2M391 127h2M394 127h2M397 127h2M400 127h2M403 127h2M406 127h2M409 127h2M412 127h2M415 127h2M418 127h2M421 127h2M424 127h2M427 127h2M430 127h2M433 127h2M436 127h2M439 127h2M442 127h2M445 127h2M448 127h2M451 127h2M454 127h2M457 127h2M460 127h2M463 127h2M466 127h2M469 127h2M472 127h2M475 127h2M478 127h2M481 127h2M484 127h2M487 127h2M490 127h2M493 127h2M496 127h2M499 127h2M502 127h2M505 127h2M508 127h2M511 127h2M514 127h2M517 127h2M520 127h2M523 127h2M526 127h2M529 127h2M532 127h2M535 127h2M538 127h2M541 127h2M544 127h2M547 127h2M550 127h2M553 127h2M556 127h2M559 127h2M562 127h2M565 127h2M568 127h2M571 127h2M574 127h2M577 127h2M580 127h2M71 71h1M73 71h2M76 71h2M79 71h2M82 71h2M85 71h2M88 71h2M91 71h2M94 71h2M97 71h2M100 71h2M103 71h2M106 71h2M109 71h2M112 71h2M115 71h2M118 71h2M121 71h2M124 71h2M127 71h2M130 71h2M133 71h2M136 71h2M139 71h2M142 71h2M145 71h2M148 71h2M151 71h2M154 71h2M157 71h2M160 71h2M163 71h2M166 71h2M169 71h2M172 71h2M175 71h2M178 71h2M181 71h2M184 71h2M187 71h2M190 71h2M193 71h2M196 71h2M199 71h2M202 71h2M205 71h2M208 71h2M211 71h2M214 71h2M217 71h2M220 71h2M223 71h2M226 71h2M229 71h2M232 71h2M235 71h2M238 71h2M241 71h2M244 71h2M247 71h2M250 71h2M253 71h2M256 71h2M259 71h2M262 71h2M265 71h2M268 71h2M271 71h2M274 71h2M277 71h2M280 71h2M283 71h2M286 71h2M289 71h2M292 71h2M295 71h2M298 71h2M301 71h2M304 71h2M307 71h2M310 71h2M313 71h2M316 71h2M319 71h2M322 71h2M325 71h2M328 71h2M331 71h2M334 71h2M337 71h2M340 71h2M343 71h2M346 71h2M349 71h2M352 71h2M355 71h2M358 71h2M361 71h2M364 71h2M367 71h2M370 71h2M373 71h2M376 71h2M379 71h2M382 71h2M385 71h2M388 71h2M391 71h2M394 71h2M397 71h2M400 71h2M403 71h2M406 71h2M409 71h2M412 71h2M415 71h2M418 71h2M421 71h2M424 71h2M427 71h2M430 71h2M433 71h2M436 71h2M439 71h2M442 71h2M445 71h2M448 71h2M451 71h2M454 71h2M457 71h2M460 71h2M463 71h2M466 71h2M469 71h2M472 71h2M475 71h2M478 71h2M481 71h2M484 71h2M487 71h2M490 71h2M493 71h2M496 71h2M499 71h2M502 71h2M505 71h2M508 71h2M511 71h2M514 71h2M517 71h2M520 71h2M523 71h2M526 71h2M529 71h2M532 71h2M535 71h2M538 71h2M541 71h2M544 71h2M547 71h2M550 71h2M553 71h2M556 71h2M559 71h2M562 71h2M565 71h2M568 71h2M571 71h2M574 71h2M577 71h2M580 71h2"/>
<path fill="#f00" d="M453 392h2v1h-2zM483 392h2v1h-2zM453 393h2v1h-2zM471 393h2v1h-2zM479 393h2v1h-2zM483 393h2v1h-2zM486 393h2v1h-2zM494 393h2v1h-2zM451 394h2v1h-2zM469 394h4v1h-4zM477 394h4v1h-4zM486 394h2v1h-2zM494 394h2v1h-2zM451 395h2v1h-2zM455 395h2v1h-2zM469 395h2v1h-2zM477 395h2v1h-2zM455 396h2v1h-2zM474 396h5v1h-5zM481 396h2v1h-2zM487 396h2v1h-2zM408 397h2v1h-2zM438 397h2v1h-2zM447 397h2v1h-2zM452 397h4v1h-4zM466 397h2v1h-2zM469 397h2v1h-2zM474 397h3v1h-3zM479 397h4v1h-4zM487 397h2v1h-2zM408 398h2v1h-2zM438 398h2v1h-2zM447 398h2v1h-2zM452 398h4v1h-4zM466 398h5v1h-5zM479 398h2v1h-2zM482 398h2v1h-2zM491 398h4v1h-4zM447 399h2v1h-2zM454 399h2v1h-2zM467 399h2v1h-2zM482 399h2v1h-2zM488 399h8v1h-8zM446 400h2v1h-2zM450 400h2v1h-2zM454 400h2v1h-2zM472 400h2v1h-2zM484 400h2v1h-2zM488 400h3v1h-3zM494 400h2v1h-2zM437 401h2v1h-2zM446 401h2v1h-2zM450 401h2v1h-2zM461 401h2v1h-2zM472 401h3v1h-3zM484 401h2v1h-2zM499 401h2v1h-2zM437 402h2v1h-2zM459 402h4v1h-4zM467 402h2v1h-2zM473 402h2v1h-2zM484 402h2v1h-2zM499 402h2v1h-2zM459 403h2v1h-2zM467 403h2v1h-2zM454 404h2v1h-2zM458 404h2v1h-2zM467 404h2v1h-2zM474 404h2v1h-2zM489 404h2v1h-2zM454 405h2v1h-2zM458 405h2v1h-2zM466 405h2v1h-2zM474 405h2v1h-2zM481 405h4v1h-4zM489 405h2v1h-2zM440 406h2v1h-2zM453 406h2v1h-2zM457 406h3v1h-3zM466 406h2v1h-2zM473 406h2v1h-2zM481 406h4v1h-4zM486 406h4v1h-4zM440 407h2v1h-2zM453 407h2v1h-2zM456 407h6v1h-6zM466 407h2v1h-2zM469 407h3v1h-3zM473 407h2v1h-2zM477 407h2v1h-2zM486 407h4v1h-4zM440 408h3v1h-3zM453 408h2v1h-2zM456 408h2v1h-2zM460 408h2v1h-2zM463 408h2v1h-2zM466 408h2v1h-2zM469 408h3v1h-3zM474 408h2v1h-2zM477 408h2v1h-2zM481 408h2v1h-2zM440 409h3v1h-3zM453 409h2v1h-2zM463 409h5v1h-5zM474 409h2v1h-2zM481 409h2v1h-2zM444 410h4v1h-4zM453 410h2v1h-2zM456 410h2v1h-2zM462 410h2v1h-2zM465 410h2v1h-2zM472 410h2v1h-2zM479 410h2v1h-2zM493 410h2v1h-2zM440 411h2v1h-2zM444 411h4v1h-4zM456 411h2v1h-2zM462 411h2v1h-2zM472 411h3v1h-3zM476 411h2v1h-2zM479 411h2v1h-2zM484 411h2v1h-2zM492 411h3v1h-3zM440 412h2v1h-2zM461 412h2v1h-2zM468 412h2v1h-2zM473 412h2v1h-2zM476 412h2v1h-2zM484 412h2v1h-2zM492 412h2v1h-2zM453 413h2v1h-2zM461 413h2v1h-2zM466 413h4v1h-4zM479 413h2v1h-2zM442 414h2v1h-2zM453 414h2v1h-2zM460 414h2v1h-2zM466 414h3v1h-3zM479 414h2v1h-2zM483 414h2v1h-2zM493 414h2v1h-2zM442 415h2v1h-2zM445 415h4v1h-4zM454 415h2v1h-2zM460 415h2v1h-2zM464 415h4v1h-4zM480 415h2v1h-2zM483 415h2v1h-2zM491 415h5v1h-5zM445 416h5v1h-5zM454 416h2v1h-2zM461 416h2v1h-2zM464 416h2v1h-2zM477 416h2v1h-2zM480 416h2v1h-2zM484 416h2v1h-2zM491 416h2v1h-2zM494 416h2v1h-2zM447 417h3v1h-3zM451 417h4v1h-4zM461 417h2v1h-2zM477 417h2v1h-2zM484 417h2v1h-2zM429 418h2v1h-2zM433 418h2v1h-2zM451 418h4v1h-4zM477 418h2v1h-2zM482 418h3v1h-3zM491 418h2v1h-2zM429 419h2v1h-2zM433 419h2v1h-2zM470 419h2v1h-2zM477 419h2v1h-2zM482 419h3v1h-3zM486 419h2v1h-2zM491 419h4v1h-4zM444 420h2v1h-2zM447 420h2v1h-2zM461 420h2v1h-2zM470 420h2v1h-2zM481 420h4v1h-4zM486 420h2v1h-2zM493 420h2v1h-2zM444 421h2v1h-2zM447 421h3v1h-3zM461 421h2v1h-2zM469 421h2v1h-2zM481 421h2v1h-2zM448 422h2v1h-2zM469 422h2v1h-2zM475 422h3v1h-3zM481 422h2v1h-2zM439 423h2v1h-2zM458 423h2v1h-2zM468 423h2v1h-2zM475 423h3v1h-3zM481 423h2v1h-2zM488 423h2v1h-2zM493 423h2v1h-2zM439 424h2v1h-2zM444 424h2v1h-2zM458 424h2v1h-2zM468 424h2v1h-2zM477 424h6v1h-6zM488 424h2v1h-2zM492 424h3v1h-3zM428 425h2v1h-2zM440 425h2v1h-2zM444 425h2v1h-2zM453 425h2v1h-2zM463 425h2v1h-2zM471 425h2v1h-2zM477 425h6v1h-6zM492 425h2v1h-2zM428 426h2v1h-2zM440 426h2v1h-2zM453 426h2v1h-2zM463 426h3v1h-3zM471 426h2v1h-2zM487 426h2v1h-2zM464 427h2v1h-2zM472 427h3v1h-3zM476 427h2v1h-2zM486 427h3v1h-3zM443 428h2v1h-2zM451 428h2v1h-2zM456 428h2v1h-2zM460 428h2v1h-2zM465 428h2v1h-2zM472 428h3v1h-3zM476 428h4v1h-4zM486 428h2v1h-2zM443 429h3v1h-3zM450 429h3v1h-3zM454 429h4v1h-4zM460 429h2v1h-2zM463 429h4v1h-4zM478 429h2v1h-2zM482 429h2v1h-2zM444 430h2v1h-2zM450 430h2v1h-2zM454 430h3v1h-3zM463 430h2v1h-2zM480 430h4v1h-4zM429 431h2v1h-2zM456 431h2v1h-2zM459 431h2v1h-2zM463 431h2v1h-2zM474 431h2v1h-2zM480 431h2v1h-2zM429 432h2v1h-2zM455 432h3v1h-3zM459 432h3v1h-3zM463 432h2v1h-2zM474 432h2v1h-2zM477 432h2v1h-2zM481 432h7v1h-7zM448 433h2v1h-2zM455 433h2v1h-2zM460 433h3v1h-3zM464 433h2v1h-2zM476 433h3v1h-3zM481 433h7v1h-7zM448 434h2v1h-2zM452 434h2v1h-2zM460 434h3v1h-3zM464 434h2v1h-2zM467 434h2v1h-2zM471 434h2v1h-2zM476 434h3v1h-3zM481 434h2v1h-2zM484 434h4v1h-4zM489 434h2v1h-2zM427 435h2v1h-2zM445 435h2v1h-2zM452 435h2v1h-2zM457 435h2v1h-2zM460 435h3v1h-3zM464 435h2v1h-2zM467 435h2v1h-2zM471 435h2v1h-2zM476 435h2v1h-2zM481 435h2v1h-2zM484 435h7v1h-7zM427 436h2v1h-2zM445 436h5v1h-5zM454 436h2v1h-2zM457 436h2v1h-2zM461 436h2v1h-2zM482 436h2v1h-2zM487 436h2v1h-2zM430 437h2v1h-2zM433 437h2v1h-2zM438 437h2v1h-2zM444 437h2v1h-2zM447 437h3v1h-3zM454 437h6v1h-6zM472 437h2v1h-2zM482 437h2v1h-2zM486 437h2v1h-2zM430 438h2v1h-2zM433 438h2v1h-2zM438 438h2v1h-2zM444 438h2v1h-2zM455 438h6v1h-6zM462 438h2v1h-2zM467 438h3v1h-3zM472 438h2v1h-2zM479 438h2v1h-2zM486 438h2v1h-2zM439 439h4v1h-4zM454 439h4v1h-4zM459 439h2v1h-2zM462 439h2v1h-2zM466 439h4v1h-4zM474 439h2v1h-2zM479 439h2v1h-2zM488 439h2v1h-2zM428 440h2v1h-2zM439 440h4v1h-4zM451 440h2v1h-2zM454 440h4v1h-4zM460 440h3v1h-3zM466 440h2v1h-2zM469 440h2v1h-2zM474 440h2v1h-2zM481 440h2v1h-2zM488 440h2v1h-2zM427 441h3v1h-3zM431 441h2v1h-2zM451 441h2v1h-2zM455 441h2v1h-2zM459 441h4v1h-4zM465 441h6v1h-6zM477 441h2v1h-2zM481 441h2v1h-2zM427 442h2v1h-2zM431 442h2v1h-2zM438 442h2v1h-2zM445 442h3v1h-3zM455 442h3v1h-3zM459 442h4v1h-4zM465 442h4v1h-4zM477 442h3v1h-3zM438 443h2v1h-2zM445 443h5v1h-5zM454 443h4v1h-4zM466 443h2v1h-2zM470 443h2v1h-2zM478 443h2v1h-2zM442 444h2v1h-2zM446 444h4v1h-4zM454 444h4v1h-4zM466 444h6v1h-6zM477 444h2v1h-2zM484 444h2v1h-2zM488 444h2v1h-2zM442 445h2v1h-2zM446 445h2v1h-2zM455 445h2v1h-2zM461 445h2v1h-2zM468 445h4v1h-4zM477 445h2v1h-2zM483 445h3v1h-3zM488 445h2v1h-2zM443 446h2v1h-2zM447 446h4v1h-4zM453 446h4v1h-4zM461 446h2v1h-2zM465 446h2v1h-2zM469 446h2v1h-2zM473 446h2v1h-2zM480 446h2v1h-2zM483 446h4v1h-4zM488 446h2v1h-2zM443 447h2v1h-2zM447 447h4v1h-4zM453 447h4v1h-4zM463 447h5v1h-5zM471 447h4v1h-4zM479 447h3v1h-3zM485 447h4v1h-4zM424 448h2v1h-2zM443 448h2v1h-2zM453 448h2v1h-2zM457 448h2v1h-2zM460 448h2v1h-2zM463 448h2v1h-2zM466 448h2v1h-2zM470 448h7v1h-7zM479 448h2v1h-2zM487 448h2v1h-2zM490 448h2v1h-2zM424 449h2v1h-2zM438 449h2v1h-2zM441 449h4v1h-4zM449 449h4v1h-4zM456 449h3v1h-3zM460 449h3v1h-3zM466 449h2v1h-2zM470 449h2v1h-2zM473 449h4v1h-4zM480 449h2v1h-2zM490 449h2v1h-2zM428 450h2v1h-2zM438 450h2v1h-2zM441 450h2v1h-2zM445 450h2v1h-2zM449 450h4v1h-4zM455 450h4v1h-4zM460 450h3v1h-3zM466 450h2v1h-2zM470 450h4v1h-4zM477 450h2v1h-2zM480 450h2v1h-2zM428 451h2v1h-2zM436 451h2v1h-2zM445 451h4v1h-4zM451 451h2v1h-2zM455 451h8v1h-8zM464 451h4v1h-4zM472 451h2v1h-2zM477 451h2v1h-2zM486 451h2v1h-2zM428 452h2v1h-2zM436 452h2v1h-2zM447 452h2v1h-2zM455 452h2v1h-2zM458 452h5v1h-5zM464 452h3v1h-3zM468 452h2v1h-2zM477 452h3v1h-3zM486 452h2v1h-2zM417 453h2v1h-2zM435 453h2v1h-2zM453 453h2v1h-2zM458 453h2v1h-2zM462 453h2v1h-2zM465 453h2v1h-2zM468 453h2v1h-2zM473 453h2v1h-2zM478 453h2v1h-2zM483 453h2v1h-2zM486 453h2v1h-2zM417 454h2v1h-2zM428 454h2v1h-2zM435 454h2v1h-2zM441 454h4v1h-4zM446 454h4v1h-4zM453 454h2v1h-2zM458 454h6v1h-6zM473 454h2v1h-2zM477 454h2v1h-2zM480 454h2v1h-2zM483 454h2v1h-2zM489 454h2v1h-2zM420 455h3v1h-3zM428 455h2v1h-2zM441 455h4v1h-4zM446 455h5v1h-5zM456 455h6v1h-6zM472 455h2v1h-2zM477 455h2v1h-2zM480 455h2v1h-2zM485 455h2v1h-2zM489 455h2v1h-2zM420 456h5v1h-5zM432 456h2v1h-2zM437 456h2v1h-2zM449 456h2v1h-2zM453 456h2v1h-2zM456 456h5v1h-5zM464 456h2v1h-2zM472 456h2v1h-2zM476 456h2v1h-2zM484 456h3v1h-3zM489 456h2v1h-2zM423 457h2v1h-2zM428 457h2v1h-2zM432 457h2v1h-2zM437 457h2v1h-2zM440 457h4v1h-4zM451 457h6v1h-6zM458 457h3v1h-3zM462 457h4v1h-4zM468 457h2v1h-2zM476 457h3v1h-3zM482 457h4v1h-4zM428 458h2v1h-2zM440 458h4v1h-4zM451 458h2v1h-2zM455 458h2v1h-2zM462 458h2v1h-2zM465 458h2v1h-2zM468 458h3v1h-3zM472 458h2v1h-2zM475 458h11v1h-11zM445 459h2v1h-2zM452 459h2v1h-2zM462 459h2v1h-2zM465 459h3v1h-3zM469 459h2v1h-2zM472 459h2v1h-2zM475 459h8v1h-8zM484 459h2v1h-2zM425 460h2v1h-2zM444 460h3v1h-3zM450 460h4v1h-4zM461 460h3v1h-3zM466 460h2v1h-2zM474 460h2v1h-2zM477 460h3v1h-3zM481 460h2v1h-2zM425 461h3v1h-3zM444 461h2v1h-2zM450 461h2v1h-2zM453 461h2v1h-2zM458 461h5v1h-5zM464 461h3v1h-3zM471 461h2v1h-2zM474 461h2v1h-2zM477 461h3v1h-3zM484 461h2v1h-2zM426 462h2v1h-2zM442 462h4v1h-4zM453 462h4v1h-4zM458 462h4v1h-4zM464 462h3v1h-3zM470 462h3v1h-3zM474 462h2v1h-2zM477 462h3v1h-3zM484 462h2v1h-2zM487 462h2v1h-2zM442 463h4v1h-4zM450 463h2v1h-2zM455 463h2v1h-2zM459 463h3v1h-3zM467 463h2v1h-2zM470 463h2v1h-2zM475 463h2v1h-2zM478 463h3v1h-3zM487 463h2v1h-2zM434 464h2v1h-2zM450 464h2v1h-2zM457 464h2v1h-2zM460 464h2v1h-2zM464 464h2v1h-2zM467 464h2v1h-2zM474 464h7v1h-7zM434 465h2v1h-2zM447 465h4v1h-4zM452 465h2v1h-2zM457 465h2v1h-2zM464 465h2v1h-2zM467 465h2v1h-2zM474 465h9v1h-9zM447 466h4v1h-4zM452 466h2v1h-2zM463 466h2v1h-2zM467 466h2v1h-2zM470 466h2v1h-2zM473 466h5v1h-5zM479 466h4v1h-4zM427 467h2v1h-2zM448 467h2v1h-2zM457 467h3v1h-3zM463 467h2v1h-2zM470 467h5v1h-5zM479 467h2v1h-2zM427 468h2v1h-2zM445 468h2v1h-2zM448 468h2v1h-2zM454 468h2v1h-2zM457 468h3v1h-3zM463 468h3v1h-3zM468 468h6v1h-6zM479 468h2v1h-2zM426 469h2v1h-2zM441 469h6v1h-6zM454 469h2v1h-2zM462 469h5v1h-5zM468 469h2v1h-2zM479 469h4v1h-4zM426 470h4v1h-4zM440 470h5v1h-5zM449 470h3v1h-3zM454 470h2v1h-2zM459 470h2v1h-2zM462 470h2v1h-2zM465 470h2v1h-2zM471 470h2v1h-2zM478 470h5v1h-5zM428 471h2v1h-2zM431 471h2v1h-2zM438 471h4v1h-4zM443 471h2v1h-2zM447 471h7v1h-7zM455 471h2v1h-2zM459 471h2v1h-2zM468 471h2v1h-2zM471 471h2v1h-2zM477 471h3v1h-3zM481 471h3v1h-3zM427 472h2v1h-2zM431 472h2v1h-2zM437 472h8v1h-8zM447 472h2v1h-2zM452 472h2v1h-2zM455 472h2v1h-2zM459 472h2v1h-2zM462 472h2v1h-2zM468 472h5v1h-5zM477 472h2v1h-2zM482 472h2v1h-2zM426 473h3v1h-3zM436 473h3v1h-3zM441 473h4v1h-4zM449 473h5v1h-5zM455 473h2v1h-2zM461 473h3v1h-3zM467 473h7v1h-7zM476 473h2v1h-2zM426 474h4v1h-4zM436 474h2v1h-2zM443 474h4v1h-4zM449 474h4v1h-4zM455 474h2v1h-2zM459 474h4v1h-4zM467 474h2v1h-2zM472 474h2v1h-2zM476 474h8v1h-8zM428 475h3v1h-3zM438 475h2v1h-2zM441 475h3v1h-3zM445 475h8v1h-8zM454 475h3v1h-3zM459 475h2v1h-2zM462 475h2v1h-2zM465 475h2v1h-2zM472 475h2v1h-2zM475 475h9v1h-9zM419 476h2v1h-2zM429 476h2v1h-2zM433 476h2v1h-2zM437 476h3v1h-3zM441 476h3v1h-3zM447 476h6v1h-6zM454 476h3v1h-3zM462 476h5v1h-5zM475 476h4v1h-4zM482 476h2v1h-2zM418 477h3v1h-3zM427 477h2v1h-2zM433 477h2v1h-2zM437 477h2v1h-2zM441 477h3v1h-3zM446 477h2v1h-2zM450 477h7v1h-7zM458 477h4v1h-4zM464 477h3v1h-3zM480 477h4v1h-4zM418 478h3v1h-3zM423 478h2v1h-2zM427 478h2v1h-2zM446 478h2v1h-2zM450 478h4v1h-4zM458 478h6v1h-6zM469 478h2v1h-2zM473 478h2v1h-2zM477 478h2v1h-2zM480 478h3v1h-3zM419 479h2v1h-2zM423 479h2v1h-2zM450 479h2v1h-2zM453 479h2v1h-2zM458 479h6v1h-6zM465 479h2v1h-2zM469 479h3v1h-3zM473 479h2v1h-2zM477 479h2v1h-2zM481 479h2v1h-2zM419 480h2v1h-2zM424 480h2v1h-2zM430 480h2v1h-2zM435 480h2v1h-2zM447 480h5v1h-5zM453 480h3v1h-3zM458 480h3v1h-3zM462 480h10v1h-10zM473 480h2v1h-2zM477 480h2v1h-2zM481 480h2v1h-2zM411 481h2v1h-2zM419 481h2v1h-2zM422 481h4v1h-4zM427 481h2v1h-2zM430 481h2v1h-2zM435 481h2v1h-2zM441 481h3v1h-3zM447 481h5v1h-5zM454 481h2v1h-2zM461 481h4v1h-4zM466 481h6v1h-6zM411 482h2v1h-2zM415 482h4v1h-4zM422 482h2v1h-2zM427 482h3v1h-3zM431 482h2v1h-2zM441 482h4v1h-4zM447 482h4v1h-4zM453 482h2v1h-2zM459 482h5v1h-5zM468 482h4v1h-4zM473 482h2v1h-2zM479 482h3v1h-3zM415 483h4v1h-4zM425 483h2v1h-2zM428 483h2v1h-2zM431 483h2v1h-2zM438 483h2v1h-2zM441 483h5v1h-5zM447 483h4v1h-4zM453 483h4v1h-4zM458 483h3v1h-3zM467 483h5v1h-5zM473 483h2v1h-2zM479 483h4v1h-4zM425 484h2v1h-2zM438 484h2v1h-2zM441 484h2v1h-2zM444 484h8v1h-8zM453 484h4v1h-4zM458 484h2v1h-2zM466 484h3v1h-3zM473 484h2v1h-2zM481 484h2v1h-2zM414 485h2v1h-2zM426 485h2v1h-2zM437 485h4v1h-4zM444 485h8v1h-8zM454 485h2v1h-2zM463 485h7v1h-7zM473 485h2v1h-2zM477 485h2v1h-2zM414 486h2v1h-2zM426 486h2v1h-2zM437 486h5v1h-5zM445 486h2v1h-2zM449 486h2v1h-2zM454 486h2v1h-2zM457 486h2v1h-2zM463 486h4v1h-4zM468 486h2v1h-2zM471 486h5v1h-5zM477 486h2v1h-2zM480 486h2v1h-2zM410 487h2v1h-2zM432 487h2v1h-2zM436 487h3v1h-3zM440 487h2v1h-2zM445 487h2v1h-2zM449 487h2v1h-2zM453 487h6v1h-6zM461 487h2v1h-2zM465 487h2v1h-2zM471 487h2v1h-2zM474 487h2v1h-2zM480 487h2v1h-2zM410 488h3v1h-3zM432 488h2v1h-2zM436 488h3v1h-3zM441 488h2v1h-2zM449 488h2v1h-2zM452 488h5v1h-5zM459 488h5v1h-5zM465 488h2v1h-2zM468 488h4v1h-4zM473 488h2v1h-2zM477 488h2v1h-2zM411 489h2v1h-2zM427 489h2v1h-2zM430 489h2v1h-2zM437 489h2v1h-2zM441 489h2v1h-2zM445 489h2v1h-2zM452 489h2v1h-2zM456 489h8v1h-8zM467 489h8v1h-8zM477 489h2v1h-2zM427 490h2v1h-2zM430 490h2v1h-2zM441 490h2v1h-2zM445 490h2v1h-2zM449 490h2v1h-2zM453 490h2v1h-2zM456 490h8v1h-8zM467 490h8v1h-8zM476 490h2v1h-2zM437 491h2v1h-2zM441 491h2v1h-2zM445 491h2v1h-2zM449 491h2v1h-2zM453 491h5v1h-5zM459 491h2v1h-2zM462 491h2v1h-2zM470 491h8v1h-8zM479 491h2v1h-2zM413 492h2v1h-2zM437 492h2v1h-2zM441 492h2v1h-2zM445 492h3v1h-3zM450 492h2v1h-2zM453 492h5v1h-5zM459 492h5v1h-5zM466 492h2v1h-2zM470 492h4v1h-4zM475 492h3v1h-3zM479 492h2v1h-2zM411 493h4v1h-4zM432 493h3v1h-3zM441 493h2v1h-2zM446 493h2v1h-2zM450 493h2v1h-2zM457 493h6v1h-6zM465 493h3v1h-3zM470 493h2v1h-2zM475 493h2v1h-2zM411 494h3v1h-3zM432 494h3v1h-3zM441 494h2v1h-2zM444 494h2v1h-2zM450 494h4v1h-4zM457 494h6v1h-6zM465 494h3v1h-3zM470 494h2v1h-2zM475 494h2v1h-2zM418 495h2v1h-2zM426 495h3v1h-3zM436 495h4v1h-4zM443 495h5v1h-5zM450 495h4v1h-4zM456 495h4v1h-4zM461 495h2v1h-2zM468 495h6v1h-6zM475 495h2v1h-2zM478 495h2v1h-2zM418 496h2v1h-2zM426 496h3v1h-3zM430 496h2v1h-2zM436 496h4v1h-4zM442 496h6v1h-6zM451 496h3v1h-3zM456 496h4v1h-4zM462 496h2v1h-2zM465 496h2v1h-2zM468 496h6v1h-6zM475 496h2v1h-2zM478 496h2v1h-2zM420 497h2v1h-2zM430 497h2v1h-2zM436 497h3v1h-3zM441 497h3v1h-3zM446 497h3v1h-3zM454 497h4v1h-4zM461 497h6v1h-6zM469 497h3v1h-3zM473 497h2v1h-2zM417 498h2v1h-2zM420 498h2v1h-2zM441 498h2v1h-2zM447 498h2v1h-2zM450 498h2v1h-2zM454 498h3v1h-3zM460 498h3v1h-3zM464 498h12v1h-12zM416 499h5v1h-5zM432 499h2v1h-2zM435 499h3v1h-3zM441 499h2v1h-2zM444 499h2v1h-2zM447 499h2v1h-2zM450 499h2v1h-2zM455 499h2v1h-2zM458 499h4v1h-4zM463 499h15v1h-15zM404 500h2v1h-2zM413 500h2v1h-2zM416 500h2v1h-2zM419 500h4v1h-4zM432 500h2v1h-2zM435 500h5v1h-5zM444 500h2v1h-2zM447 500h2v1h-2zM450 500h2v1h-2zM455 500h5v1h-5zM461 500h5v1h-5zM468 500h7v1h-7zM476 500h2v1h-2zM404 501h2v1h-2zM411 501h4v1h-4zM421 501h2v1h-2zM429 501h3v1h-3zM434 501h6v1h-6zM453 501h10v1h-10zM464 501h2v1h-2zM467 501h9v1h-9zM411 502h4v1h-4zM418 502h2v1h-2zM428 502h4v1h-4zM434 502h6v1h-6zM446 502h2v1h-2zM450 502h2v1h-2zM453 502h9v1h-9zM465 502h11v1h-11zM404 503h2v1h-2zM413 503h3v1h-3zM418 503h2v1h-2zM423 503h2v1h-2zM428 503h2v1h-2zM432 503h2v1h-2zM437 503h4v1h-4zM444 503h8v1h-8zM458 503h2v1h-2zM461 503h6v1h-6zM468 503h5v1h-5zM475 503h2v1h-2zM403 504h3v1h-3zM408 504h2v1h-2zM414 504h2v1h-2zM419 504h2v1h-2zM423 504h3v1h-3zM432 504h3v1h-3zM437 504h6v1h-6zM444 504h6v1h-6zM456 504h2v1h-2zM459 504h8v1h-8zM468 504h4v1h-4zM474 504h3v1h-3zM396 505h2v1h-2zM403 505h2v1h-2zM408 505h2v1h-2zM419 505h7v1h-7zM431 505h7v1h-7zM440 505h3v1h-3zM445 505h6v1h-6zM452 505h2v1h-2zM455 505h3v1h-3zM459 505h3v1h-3zM465 505h2v1h-2zM471 505h2v1h-2zM474 505h2v1h-2zM396 506h3v1h-3zM418 506h2v1h-2zM421 506h4v1h-4zM427 506h6v1h-6zM434 506h9v1h-9zM445 506h6v1h-6zM452 506h6v1h-6zM460 506h2v1h-2zM464 506h3v1h-3zM471 506h2v1h-2zM397 507h2v1h-2zM402 507h2v1h-2zM408 507h7v1h-7zM418 507h2v1h-2zM427 507h4v1h-4zM437 507h5v1h-5zM444 507h7v1h-7zM453 507h5v1h-5zM460 507h2v1h-2zM463 507h3v1h-3zM471 507h2v1h-2zM402 508h2v1h-2zM408 508h7v1h-7zM423 508h2v1h-2zM433 508h2v1h-2zM438 508h2v1h-2zM442 508h10v1h-10zM453 508h2v1h-2zM461 508h8v1h-8zM470 508h5v1h-5zM406 509h3v1h-3zM423 509h2v1h-2zM426 509h4v1h-4zM433 509h2v1h-2zM438 509h2v1h-2zM441 509h3v1h-3zM445 509h7v1h-7zM453 509h5v1h-5zM459 509h10v1h-10zM470 509h5v1h-5zM406 510h3v1h-3zM426 510h4v1h-4zM437 510h2v1h-2zM440 510h9v1h-9zM453 510h8v1h-8zM463 510h5v1h-5zM470 510h5v1h-5zM404 511h2v1h-2zM407 511h2v1h-2zM421 511h2v1h-2zM431 511h4v1h-4zM437 511h12v1h-12zM453 511h7v1h-7zM463 511h2v1h-2zM466 511h2v1h-2zM473 511h2v1h-2zM393 512h2v1h-2zM404 512h2v1h-2zM421 512h4v1h-4zM431 512h4v1h-4zM438 512h12v1h-12zM451 512h6v1h-6zM466 512h5v1h-5zM393 513h4v1h-4zM401 513h2v1h-2zM419 513h6v1h-6zM432 513h2v1h-2zM435 513h11v1h-11zM448 513h2v1h-2zM451 513h8v1h-8zM462 513h5v1h-5zM468 513h4v1h-4zM392 514h2v1h-2zM395 514h2v1h-2zM401 514h2v1h-2zM413 514h2v1h-2zM416 514h2v1h-2zM419 514h4v1h-4zM427 514h2v1h-2zM435 514h3v1h-3zM439 514h2v1h-2zM442 514h6v1h-6zM449 514h10v1h-10zM462 514h10v1h-10zM392 515h2v1h-2zM404 515h2v1h-2zM409 515h2v1h-2zM413 515h2v1h-2zM416 515h2v1h-2zM419 515h4v1h-4zM427 515h2v1h-2zM431 515h4v1h-4zM437 515h8v1h-8zM446 515h2v1h-2zM449 515h9v1h-9zM464 515h5v1h-5zM470 515h2v1h-2zM404 516h2v1h-2zM409 516h2v1h-2zM418 516h5v1h-5zM431 516h12v1h-12zM446 516h2v1h-2zM449 516h7v1h-7zM463 516h3v1h-3zM467 516h2v1h-2zM470 516h2v1h-2zM409 517h4v1h-4zM418 517h3v1h-3zM435 517h2v1h-2zM439 517h6v1h-6zM446 517h2v1h-2zM450 517h9v1h-9zM462 517h8v1h-8zM411 518h2v1h-2zM419 518h2v1h-2zM425 518h2v1h-2zM432 518h2v1h-2zM439 518h3v1h-3zM443 518h2v1h-2zM450 518h9v1h-9zM460 518h11v1h-11zM415 519h4v1h-4zM420 519h2v1h-2zM425 519h2v1h-2zM432 519h6v1h-6zM439 519h3v1h-3zM447 519h5v1h-5zM455 519h3v1h-3zM460 519h7v1h-7zM468 519h3v1h-3zM409 520h5v1h-5zM415 520h4v1h-4zM420 520h2v1h-2zM423 520h2v1h-2zM426 520h4v1h-4zM433 520h5v1h-5zM440 520h2v1h-2zM447 520h21v1h-21zM397 521h2v1h-2zM401 521h2v1h-2zM409 521h5v1h-5zM416 521h2v1h-2zM423 521h7v1h-7zM433 521h5v1h-5zM440 521h2v1h-2zM444 521h25v1h-25zM376 522h2v1h-2zM397 522h2v1h-2zM401 522h2v1h-2zM411 522h2v1h-2zM415 522h3v1h-3zM422 522h4v1h-4zM431 522h4v1h-4zM436 522h3v1h-3zM442 522h10v1h-10zM454 522h15v1h-15zM376 523h2v1h-2zM402 523h2v1h-2zM407 523h2v1h-2zM411 523h2v1h-2zM415 523h2v1h-2zM421 523h4v1h-4zM431 523h4v1h-4zM436 523h3v1h-3zM442 523h3v1h-3zM449 523h7v1h-7zM457 523h10v1h-10zM402 524h2v1h-2zM407 524h2v1h-2zM421 524h2v1h-2zM427 524h3v1h-3zM433 524h2v1h-2zM436 524h2v1h-2zM442 524h4v1h-4zM450 524h8v1h-8zM459 524h8v1h-8zM387 525h2v1h-2zM423 525h2v1h-2zM427 525h3v1h-3zM436 525h2v1h-2zM442 525h4v1h-4zM447 525h8v1h-8zM456 525h6v1h-6zM463 525h3v1h-3zM387 526h2v1h-2zM406 526h6v1h-6zM423 526h2v1h-2zM432 526h6v1h-6zM441 526h13v1h-13zM458 526h4v1h-4zM463 526h2v1h-2zM466 526h2v1h-2zM387 527h2v1h-2zM393 527h2v1h-2zM406 527h6v1h-6zM416 527h2v1h-2zM422 527h4v1h-4zM430 527h6v1h-6zM440 527h4v1h-4zM446 527h4v1h-4zM451 527h6v1h-6zM459 527h9v1h-9zM388 528h2v1h-2zM393 528h2v1h-2zM401 528h2v1h-2zM408 528h2v1h-2zM414 528h4v1h-4zM422 528h6v1h-6zM430 528h3v1h-3zM434 528h8v1h-8zM444 528h2v1h-2zM448 528h9v1h-9zM458 528h8v1h-8zM388 529h2v1h-2zM396 529h2v1h-2zM401 529h3v1h-3zM414 529h3v1h-3zM423 529h2v1h-2zM426 529h29v1h-29zM457 529h8v1h-8zM396 530h2v1h-2zM399 530h2v1h-2zM402 530h2v1h-2zM416 530h2v1h-2zM421 530h4v1h-4zM426 530h13v1h-13zM440 530h4v1h-4zM445 530h9v1h-9zM457 530h9v1h-9zM389 531h2v1h-2zM399 531h4v1h-4zM411 531h2v1h-2zM416 531h8v1h-8zM426 531h8v1h-8zM436 531h4v1h-4zM443 531h6v1h-6zM450 531h5v1h-5zM460 531h2v1h-2zM463 531h3v1h-3zM389 532h2v1h-2zM399 532h4v1h-4zM411 532h2v1h-2zM417 532h17v1h-17zM436 532h13v1h-13zM450 532h2v1h-2zM453 532h4v1h-4zM460 532h5v1h-5zM402 533h2v1h-2zM413 533h3v1h-3zM417 533h15v1h-15zM436 533h10v1h-10zM448 533h2v1h-2zM451 533h6v1h-6zM460 533h4v1h-4zM392 534h2v1h-2zM402 534h2v1h-2zM410 534h6v1h-6zM419 534h14v1h-14zM437 534h21v1h-21zM460 534h4v1h-4zM382 535h2v1h-2zM392 535h3v1h-3zM399 535h2v1h-2zM402 535h2v1h-2zM410 535h5v1h-5zM418 535h2v1h-2zM423 535h18v1h-18zM442 535h16v1h-16zM459 535h4v1h-4zM382 536h4v1h-4zM393 536h2v1h-2zM396 536h2v1h-2zM399 536h2v1h-2zM410 536h6v1h-6zM417 536h8v1h-8zM426 536h5v1h-5zM432 536h5v1h-5zM442 536h20v1h-20zM384 537h2v1h-2zM392 537h6v1h-6zM413 537h12v1h-12zM426 537h2v1h-2zM429 537h2v1h-2zM432 537h5v1h-5zM440 537h6v1h-6zM447 537h15v1h-15zM392 538h8v1h-8zM401 538h5v1h-5zM411 538h2v1h-2zM414 538h6v1h-6zM421 538h2v1h-2zM425 538h2v1h-2zM429 538h2v1h-2zM433 538h12v1h-12zM446 538h15v1h-15zM388 539h2v1h-2zM392 539h2v1h-2zM398 539h2v1h-2zM401 539h9v1h-9zM411 539h2v1h-2zM417 539h2v1h-2zM421 539h10v1h-10zM434 539h8v1h-8zM443 539h5v1h-5zM449 539h4v1h-4zM454 539h6v1h-6zM380 540h2v1h-2zM388 540h5v1h-5zM394 540h2v1h-2zM402 540h2v1h-2zM406 540h4v1h-4zM416 540h2v1h-2zM420 540h5v1h-5zM426 540h5v1h-5zM434 540h19v1h-19zM454 540h6v1h-6zM380 541h3v1h-3zM384 541h2v1h-2zM389 541h4v1h-4zM394 541h2v1h-2zM402 541h5v1h-5zM412 541h10v1h-10zM430 541h2v1h-2zM434 541h4v1h-4zM439 541h19v1h-19zM377 542h2v1h-2zM381 542h2v1h-2zM384 542h2v1h-2zM391 542h2v1h-2zM400 542h8v1h-8zM412 542h9v1h-9zM422 542h3v1h-3zM427 542h2v1h-2zM430 542h4v1h-4zM436 542h22v1h-22zM377 543h2v1h-2zM391 543h2v1h-2zM394 543h2v1h-2zM399 543h5v1h-5zM405 543h3v1h-3zM412 543h2v1h-2zM416 543h4v1h-4zM421 543h5v1h-5zM427 543h3v1h-3zM432 543h3v1h-3zM436 543h10v1h-10zM447 543h11v1h-11zM375 544h4v1h-4zM381 544h2v1h-2zM390 544h2v1h-2zM394 544h3v1h-3zM399 544h4v1h-4zM405 544h2v1h-2zM412 544h2v1h-2zM416 544h3v1h-3zM421 544h37v1h-37zM375 545h2v1h-2zM378 545h2v1h-2zM381 545h2v1h-2zM386 545h2v1h-2zM390 545h2v1h-2zM395 545h3v1h-3zM401 545h2v1h-2zM405 545h4v1h-4zM416 545h3v1h-3zM420 545h5v1h-5zM426 545h11v1h-11zM438 545h19v1h-19zM378 546h2v1h-2zM386 546h2v1h-2zM394 546h4v1h-4zM407 546h2v1h-2zM412 546h2v1h-2zM417 546h2v1h-2zM420 546h2v1h-2zM423 546h2v1h-2zM426 546h31v1h-31zM384 547h2v1h-2zM394 547h2v1h-2zM404 547h3v1h-3zM412 547h2v1h-2zM421 547h4v1h-4zM429 547h27v1h-27zM375 548h2v1h-2zM384 548h2v1h-2zM387 548h2v1h-2zM392 548h2v1h-2zM403 548h8v1h-8zM412 548h2v1h-2zM417 548h2v1h-2zM421 548h15v1h-15zM437 548h18v1h-18zM375 549h2v1h-2zM381 549h2v1h-2zM387 549h2v1h-2zM391 549h3v1h-3zM403 549h2v1h-2zM407 549h4v1h-4zM412 549h2v1h-2zM416 549h4v1h-4zM422 549h32v1h-32zM375 550h2v1h-2zM381 550h2v1h-2zM391 550h2v1h-2zM394 550h2v1h-2zM404 550h2v1h-2zM407 550h4v1h-4zM412 550h2v1h-2zM416 550h4v1h-4zM422 550h2v1h-2zM425 550h28v1h-28zM372 551h2v1h-2zM375 551h2v1h-2zM379 551h3v1h-3zM386 551h2v1h-2zM389 551h3v1h-3zM394 551h2v1h-2zM398 551h4v1h-4zM404 551h2v1h-2zM407 551h4v1h-4zM414 551h3v1h-3zM421 551h2v1h-2zM425 551h21v1h-21zM447 551h6v1h-6zM372 552h2v1h-2zM379 552h3v1h-3zM386 552h2v1h-2zM389 552h3v1h-3zM394 552h8v1h-8zM407 552h10v1h-10zM418 552h13v1h-13zM432 552h15v1h-15zM448 552h3v1h-3zM383 553h2v1h-2zM389 553h2v1h-2zM392 553h6v1h-6zM400 553h2v1h-2zM406 553h2v1h-2zM411 553h20v1h-20zM432 553h15v1h-15zM372 554h2v1h-2zM383 554h2v1h-2zM392 554h4v1h-4zM400 554h3v1h-3zM406 554h2v1h-2zM413 554h3v1h-3zM417 554h2v1h-2zM421 554h2v1h-2zM426 554h5v1h-5zM434 554h13v1h-13zM372 555h2v1h-2zM384 555h2v1h-2zM391 555h4v1h-4zM400 555h3v1h-3zM405 555h3v1h-3zM411 555h4v1h-4zM418 555h2v1h-2zM421 555h2v1h-2zM424 555h2v1h-2zM427 555h4v1h-4zM433 555h12v1h-12zM446 555h2v1h-2zM381 556h2v1h-2zM384 556h2v1h-2zM391 556h5v1h-5zM400 556h3v1h-3zM405 556h3v1h-3zM411 556h2v1h-2zM414 556h6v1h-6zM421 556h2v1h-2zM424 556h7v1h-7zM432 556h6v1h-6zM440 556h8v1h-8zM368 557h2v1h-2zM381 557h2v1h-2zM388 557h2v1h-2zM391 557h2v1h-2zM394 557h2v1h-2zM400 557h13v1h-13zM414 557h5v1h-5zM421 557h2v1h-2zM425 557h10v1h-10zM436 557h4v1h-4zM441 557h2v1h-2zM444 557h4v1h-4zM368 558h2v1h-2zM379 558h4v1h-4zM388 558h2v1h-2zM391 558h4v1h-4zM398 558h3v1h-3zM402 558h11v1h-11zM414 558h5v1h-5zM421 558h2v1h-2zM424 558h11v1h-11zM436 558h12v1h-12zM370 559h2v1h-2zM379 559h6v1h-6zM386 559h10v1h-10zM397 559h4v1h-4zM402 559h8v1h-8zM412 559h2v1h-2zM415 559h5v1h-5zM421 559h2v1h-2zM424 559h7v1h-7zM435 559h10v1h-10zM361 560h2v1h-2zM364 560h2v1h-2zM370 560h2v1h-2zM374 560h2v1h-2zM378 560h2v1h-2zM381 560h4v1h-4zM386 560h5v1h-5zM394 560h2v1h-2zM397 560h2v1h-2zM402 560h6v1h-6zM410 560h7v1h-7zM418 560h3v1h-3zM422 560h10v1h-10zM435 560h10v1h-10zM361 561h2v1h-2zM364 561h2v1h-2zM368 561h2v1h-2zM371 561h2v1h-2zM374 561h2v1h-2zM378 561h2v1h-2zM388 561h6v1h-6zM395 561h2v1h-2zM402 561h4v1h-4zM407 561h2v1h-2zM410 561h3v1h-3zM414 561h3v1h-3zM418 561h14v1h-14zM434 561h2v1h-2zM438 561h6v1h-6zM362 562h3v1h-3zM368 562h2v1h-2zM371 562h2v1h-2zM377 562h2v1h-2zM383 562h2v1h-2zM389 562h5v1h-5zM395 562h4v1h-4zM400 562h2v1h-2zM403 562h3v1h-3zM407 562h3v1h-3zM415 562h3v1h-3zM419 562h12v1h-12zM434 562h2v1h-2zM437 562h6v1h-6zM362 563h3v1h-3zM377 563h2v1h-2zM383 563h2v1h-2zM391 563h2v1h-2zM397 563h13v1h-13zM411 563h2v1h-2zM416 563h19v1h-19zM437 563h6v1h-6zM366 564h4v1h-4zM379 564h2v1h-2zM388 564h7v1h-7zM398 564h15v1h-15zM416 564h7v1h-7zM425 564h4v1h-4zM430 564h5v1h-5zM438 564h4v1h-4zM356 565h2v1h-2zM366 565h4v1h-4zM372 565h2v1h-2zM379 565h2v1h-2zM388 565h3v1h-3zM393 565h2v1h-2zM398 565h7v1h-7zM409 565h2v1h-2zM414 565h7v1h-7zM424 565h9v1h-9zM435 565h7v1h-7zM356 566h2v1h-2zM362 566h2v1h-2zM372 566h2v1h-2zM385 566h2v1h-2zM388 566h3v1h-3zM398 566h7v1h-7zM406 566h5v1h-5zM412 566h29v1h-29zM352 567h2v1h-2zM362 567h2v1h-2zM372 567h2v1h-2zM379 567h3v1h-3zM385 567h2v1h-2zM388 567h2v1h-2zM391 567h2v1h-2zM395 567h2v1h-2zM399 567h4v1h-4zM406 567h14v1h-14zM421 567h20v1h-20zM352 568h2v1h-2zM357 568h2v1h-2zM365 568h2v1h-2zM372 568h4v1h-4zM378 568h6v1h-6zM387 568h20v1h-20zM409 568h30v1h-30zM357 569h2v1h-2zM365 569h2v1h-2zM372 569h4v1h-4zM378 569h3v1h-3zM382 569h2v1h-2zM385 569h6v1h-6zM392 569h15v1h-15zM409 569h30v1h-30zM353 570h2v1h-2zM365 570h2v1h-2zM372 570h3v1h-3zM379 570h2v1h-2zM384 570h8v1h-8zM393 570h12v1h-12zM408 570h30v1h-30zM353 571h2v1h-2zM364 571h2v1h-2zM370 571h2v1h-2zM373 571h2v1h-2zM379 571h2v1h-2zM382 571h10v1h-10zM393 571h8v1h-8zM402 571h3v1h-3zM408 571h30v1h-30zM364 572h2v1h-2zM369 572h5v1h-5zM379 572h2v1h-2zM382 572h9v1h-9zM392 572h5v1h-5zM398 572h3v1h-3zM402 572h6v1h-6zM409 572h20v1h-20zM430 572h6v1h-6zM363 573h4v1h-4zM369 573h6v1h-6zM379 573h2v1h-2zM382 573h2v1h-2zM386 573h4v1h-4zM392 573h9v1h-9zM402 573h11v1h-11zM414 573h3v1h-3zM419 573h17v1h-17zM363 574h4v1h-4zM370 574h10v1h-10zM391 574h2v1h-2zM394 574h22v1h-22zM417 574h17v1h-17zM356 575h2v1h-2zM363 575h2v1h-2zM366 575h2v1h-2zM370 575h10v1h-10zM385 575h2v1h-2zM391 575h3v1h-3zM396 575h20v1h-20zM417 575h17v1h-17zM355 576h3v1h-3zM361 576h2v1h-2zM364 576h4v1h-4zM371 576h3v1h-3zM375 576h4v1h-4zM380 576h4v1h-4zM385 576h2v1h-2zM389 576h5v1h-5zM395 576h23v1h-23zM419 576h14v1h-14zM355 577h2v1h-2zM361 577h2v1h-2zM364 577h2v1h-2zM371 577h6v1h-6zM380 577h4v1h-4zM385 577h3v1h-3zM389 577h4v1h-4zM395 577h27v1h-27zM423 577h2v1h-2zM427 577h6v1h-6zM361 578h2v1h-2zM364 578h4v1h-4zM371 578h4v1h-4zM380 578h4v1h-4zM385 578h8v1h-8zM394 578h27v1h-27zM423 578h9v1h-9zM349 579h2v1h-2zM354 579h2v1h-2zM361 579h2v1h-2zM364 579h4v1h-4zM373 579h2v1h-2zM380 579h5v1h-5zM387 579h6v1h-6zM394 579h2v1h-2zM398 579h23v1h-23zM422 579h7v1h-7zM349 580h2v1h-2zM352 580h5v1h-5zM366 580h2v1h-2zM371 580h3v1h-3zM379 580h6v1h-6zM389 580h4v1h-4zM394 580h35v1h-35zM346 581h2v1h-2zM352 581h2v1h-2zM355 581h2v1h-2zM362 581h2v1h-2zM366 581h2v1h-2zM371 581h7v1h-7zM379 581h2v1h-2zM387 581h6v1h-6zM394 581h17v1h-17zM412 581h17v1h-17zM343 582h2v1h-2zM346 582h2v1h-2zM350 582h2v1h-2zM354 582h2v1h-2zM359 582h2v1h-2zM362 582h6v1h-6zM370 582h16v1h-16zM387 582h9v1h-9zM397 582h30v1h-30zM343 583h2v1h-2zM350 583h2v1h-2zM354 583h8v1h-8zM364 583h5v1h-5zM370 583h5v1h-5zM376 583h11v1h-11zM388 583h14v1h-14zM404 583h23v1h-23zM348 584h2v1h-2zM354 584h8v1h-8zM365 584h5v1h-5zM375 584h4v1h-4zM380 584h2v1h-2zM384 584h42v1h-42zM342 585h2v1h-2zM348 585h2v1h-2zM351 585h9v1h-9zM363 585h7v1h-7zM374 585h5v1h-5zM380 585h2v1h-2zM383 585h40v1h-40zM342 586h2v1h-2zM351 586h3v1h-3zM355 586h4v1h-4zM361 586h8v1h-8zM373 586h9v1h-9zM383 586h21v1h-21zM405 586h18v1h-18zM344 587h2v1h-2zM353 587h2v1h-2zM357 587h2v1h-2zM361 587h8v1h-8zM373 587h17v1h-17zM393 587h9v1h-9zM403 587h7v1h-7zM412 587h10v1h-10zM344 588h2v1h-2zM349 588h2v1h-2zM353 588h2v1h-2zM361 588h5v1h-5zM367 588h3v1h-3zM373 588h2v1h-2zM377 588h19v1h-19zM397 588h24v1h-24zM345 589h2v1h-2zM349 589h2v1h-2zM353 589h2v1h-2zM356 589h3v1h-3zM361 589h5v1h-5zM367 589h3v1h-3zM373 589h3v1h-3zM377 589h3v1h-3zM381 589h39v1h-39zM341 590h2v1h-2zM345 590h2v1h-2zM352 590h7v1h-7zM363 590h3v1h-3zM372 590h19v1h-19zM392 590h20v1h-20zM413 590h4v1h-4zM341 591h2v1h-2zM352 591h2v1h-2zM355 591h7v1h-7zM363 591h3v1h-3zM371 591h3v1h-3zM376 591h11v1h-11zM388 591h29v1h-29zM344 592h4v1h-4zM355 592h7v1h-7zM363 592h2v1h-2zM370 592h3v1h-3zM376 592h5v1h-5zM383 592h30v1h-30zM344 593h4v1h-4zM353 593h4v1h-4zM358 593h6v1h-6zM365 593h2v1h-2zM368 593h4v1h-4zM374 593h18v1h-18zM393 593h20v1h-20zM339 594h2v1h-2zM345 594h14v1h-14zM360 594h13v1h-13zM374 594h4v1h-4zM380 594h7v1h-7zM388 594h4v1h-4zM393 594h18v1h-18zM339 595h2v1h-2zM346 595h27v1h-27zM374 595h5v1h-5zM380 595h3v1h-3zM384 595h26v1h-26zM339 596h2v1h-2zM344 596h6v1h-6zM352 596h9v1h-9zM364 596h18v1h-18zM383 596h26v1h-26zM339 597h2v1h-2zM343 597h7v1h-7zM354 597h7v1h-7zM362 597h9v1h-9zM372 597h19v1h-19zM392 597h15v1h-15zM343 598h8v1h-8zM354 598h7v1h-7zM362 598h2v1h-2zM365 598h9v1h-9zM375 598h14v1h-14zM391 598h15v1h-15zM342 599h3v1h-3zM346 599h7v1h-7zM356 599h5v1h-5zM362 599h2v1h-2zM366 599h9v1h-9zM376 599h28v1h-28zM342 600h6v1h-6zM351 600h14v1h-14zM367 600h36v1h-36zM342 601h8v1h-8zM353 601h6v1h-6zM360 601h40v1h-40zM342 602h2v1h-2zM345 602h5v1h-5zM353 602h46v1h-46zM337 603h5v1h-5zM343 603h2v1h-2zM348 603h4v1h-4zM353 603h43v1h-43zM337 604h5v1h-5zM343 604h3v1h-3zM347 604h47v1h-47zM343 605h3v1h-3zM347 605h45v1h-45zM334 606h2v1h-2zM339 606h2v1h-2zM344 606h48v1h-48zM332 607h6v1h-6zM339 607h2v1h-2zM342 607h13v1h-13zM356 607h33v1h-33zM332 608h2v1h-2zM336 608h2v1h-2zM339 608h48v1h-48zM335 609h2v1h-2zM339 609h45v1h-45zM335 610h4v1h-4zM340 610h42v1h-42zM334 611h2v1h-2zM337 611h5v1h-5zM344 611h4v1h-4zM349 611h32v1h-32zM334 612h2v1h-2zM337 612h41v1h-41zM336 613h2v1h-2zM339 613h31v1h-31zM371 613h2v1h-2zM327 614h2v1h-2zM333 614h36v1h-36zM327 615h5v1h-5zM333 615h17v1h-17zM351 615h14v1h-14zM327 616h7v1h-7zM335 616h28v1h-28zM325 617h9v1h-9zM337 617h22v1h-22zM325 618h31v1h-31zM325 619h26v1h-26zM323 620h25v1h-25zM322 621h24v1h-24zM320 622h21v1h-21zM318 623h22v1h-22zM317 624h19v1h-19zM314 625h17v1h-17zM307 626h21v1h-21zM300 627h23v1h-23zM280 628h2v1h-2zM286 628h30v1h-30zM271 629h3v1h-3zM275 629h32v1h-32zM262 630h4v1h-4zM267 630h24v1h-24zM248 631h2v1h-2zM251 631h15v1h-15zM267 631h8v1h-8zM236 632h2v1h-2zM241 632h2v1h-2zM245 632h2v1h-2zM248 632h17v1h-17zM217 633h4v1h-4zM224 633h10v1h-10zM236 633h2v1h-2zM241 633h2v1h-2zM245 633h2v1h-2zM249 633h2v1h-2zM196 634h2v1h-2zM199 634h4v1h-4zM206 634h7v1h-7zM216 634h5v1h-5zM224 634h10v1h-10zM167 635h2v1h-2zM176 635h2v1h-2zM186 635h2v1h-2zM193 635h5v1h-5zM199 635h4v1h-4zM206 635h7v1h-7zM216 635h4v1h-4zM128 636h2v1h-2zM149 636h2v1h-2zM167 636h2v1h-2zM176 636h2v1h-2zM186 636h2v1h-2zM193 636h3v1h-3zM128 637h2v1h-2zM149 637h2v1h-2z"/>
<path fill="#ff0" d="M443 391h4v1h-4zM452 391h2v1h-2zM463 391h4v1h-4zM474 391h2v1h-2zM489 391h2v1h-2zM430 392h2v1h-2zM443 392h4v1h-4zM452 392h1v1h-1zM455 392h3v1h-3zM463 392h6v1h-6zM472 392h4v1h-4zM481 392h2v1h-2zM489 392h2v1h-2zM430 393h2v1h-2zM442 393h4v1h-4zM455 393h3v1h-3zM461 393h2v1h-2zM467 393h2v1h-2zM470 393h1v1h-1zM473 393h1v1h-1zM481 393h2v1h-2zM402 394h2v1h-2zM429 394h2v1h-2zM442 394h2v1h-2zM447 394h2v1h-2zM450 394h1v1h-1zM459 394h6v1h-6zM467 394h2v1h-2zM473 394h2v1h-2zM481 394h1v1h-1zM402 395h2v1h-2zM422 395h2v1h-2zM429 395h2v1h-2zM437 395h2v1h-2zM440 395h2v1h-2zM447 395h4v1h-4zM459 395h2v1h-2zM463 395h2v1h-2zM466 395h3v1h-3zM472 395h3v1h-3zM480 395h3v1h-3zM354 396h2v1h-2zM422 396h2v1h-2zM435 396h4v1h-4zM440 396h2v1h-2zM449 396h4v1h-4zM454 396h1v1h-1zM461 396h2v1h-2zM466 396h2v1h-2zM491 396h2v1h-2zM568 396h2v1h-2zM354 397h2v1h-2zM435 397h3v1h-3zM440 397h1v1h-1zM450 397h2v1h-2zM461 397h4v1h-4zM491 397h2v1h-2zM568 397h2v1h-2zM424 398h2v1h-2zM437 398h1v1h-1zM440 398h1v1h-1zM449 398h1v1h-1zM451 398h1v1h-1zM458 398h2v1h-2zM461 398h4v1h-4zM474 398h2v1h-2zM409 399h2v1h-2zM424 399h2v1h-2zM435 399h2v1h-2zM438 399h3v1h-3zM449 399h1v1h-1zM456 399h4v1h-4zM461 399h2v1h-2zM466 399h1v1h-1zM474 399h2v1h-2zM409 400h2v1h-2zM430 400h4v1h-4zM435 400h6v1h-6zM448 400h1v1h-1zM456 400h2v1h-2zM466 400h4v1h-4zM474 400h1v1h-1zM486 400h1v1h-1zM354 401h2v1h-2zM386 401h2v1h-2zM417 401h2v1h-2zM423 401h2v1h-2zM428 401h6v1h-6zM435 401h2v1h-2zM448 401h1v1h-1zM452 401h5v1h-5zM459 401h2v1h-2zM466 401h4v1h-4zM476 401h2v1h-2zM486 401h1v1h-1zM354 402h2v1h-2zM386 402h2v1h-2zM417 402h2v1h-2zM423 402h2v1h-2zM428 402h4v1h-4zM442 402h5v1h-5zM451 402h8v1h-8zM463 402h2v1h-2zM466 402h1v1h-1zM476 402h2v1h-2zM489 402h2v1h-2zM422 403h2v1h-2zM435 403h4v1h-4zM442 403h7v1h-7zM453 403h6v1h-6zM462 403h3v1h-3zM466 403h1v1h-1zM489 403h2v1h-2zM422 404h2v1h-2zM435 404h4v1h-4zM444 404h2v1h-2zM447 404h4v1h-4zM452 404h2v1h-2zM457 404h1v1h-1zM461 404h4v1h-4zM469 404h2v1h-2zM566 404h2v1h-2zM388 405h2v1h-2zM415 405h2v1h-2zM436 405h6v1h-6zM443 405h3v1h-3zM449 405h2v1h-2zM452 405h2v1h-2zM457 405h1v1h-1zM461 405h5v1h-5zM469 405h2v1h-2zM566 405h2v1h-2zM388 406h2v1h-2zM415 406h2v1h-2zM438 406h2v1h-2zM442 406h3v1h-3zM448 406h2v1h-2zM452 406h1v1h-1zM461 406h2v1h-2zM465 406h1v1h-1zM468 406h2v1h-2zM476 406h2v1h-2zM479 406h2v1h-2zM425 407h2v1h-2zM428 407h2v1h-2zM434 407h2v1h-2zM438 407h2v1h-2zM442 407h1v1h-1zM448 407h2v1h-2zM462 407h1v1h-1zM468 407h1v1h-1zM472 407h1v1h-1zM476 407h1v1h-1zM479 407h3v1h-3zM425 408h2v1h-2zM428 408h2v1h-2zM433 408h3v1h-3zM438 408h2v1h-2zM443 408h2v1h-2zM450 408h2v1h-2zM455 408h1v1h-1zM458 408h2v1h-2zM472 408h1v1h-1zM480 408h1v1h-1zM494 408h2v1h-2zM415 409h2v1h-2zM429 409h2v1h-2zM433 409h3v1h-3zM443 409h5v1h-5zM449 409h4v1h-4zM455 409h5v1h-5zM461 409h2v1h-2zM471 409h2v1h-2zM494 409h2v1h-2zM415 410h2v1h-2zM429 410h2v1h-2zM434 410h5v1h-5zM441 410h2v1h-2zM449 410h4v1h-4zM461 410h1v1h-1zM495 410h1v1h-1zM423 411h2v1h-2zM432 411h2v1h-2zM435 411h4v1h-4zM442 411h1v1h-1zM452 411h4v1h-4zM458 411h1v1h-1zM470 411h2v1h-2zM487 411h2v1h-2zM422 412h3v1h-3zM432 412h5v1h-5zM442 412h1v1h-1zM445 412h5v1h-5zM454 412h5v1h-5zM470 412h2v1h-2zM487 412h2v1h-2zM422 413h2v1h-2zM434 413h3v1h-3zM441 413h2v1h-2zM445 413h5v1h-5zM457 413h3v1h-3zM463 413h1v1h-1zM473 413h2v1h-2zM481 413h2v1h-2zM564 413h2v1h-2zM435 414h3v1h-3zM440 414h2v1h-2zM444 414h1v1h-1zM446 414h2v1h-2zM449 414h2v1h-2zM457 414h3v1h-3zM462 414h2v1h-2zM469 414h1v1h-1zM474 414h4v1h-4zM481 414h2v1h-2zM495 414h2v1h-2zM564 414h2v1h-2zM425 415h2v1h-2zM436 415h3v1h-3zM440 415h2v1h-2zM444 415h1v1h-1zM449 415h2v1h-2zM456 415h1v1h-1zM462 415h1v1h-1zM468 415h2v1h-2zM473 415h5v1h-5zM496 415h1v1h-1zM565 415h2v1h-2zM419 416h2v1h-2zM425 416h4v1h-4zM430 416h2v1h-2zM437 416h2v1h-2zM440 416h5v1h-5zM456 416h1v1h-1zM467 416h2v1h-2zM471 416h4v1h-4zM476 416h1v1h-1zM562 416h2v1h-2zM565 416h2v1h-2zM419 417h2v1h-2zM427 417h2v1h-2zM430 417h2v1h-2zM437 417h2v1h-2zM442 417h2v1h-2zM446 417h1v1h-1zM455 417h1v1h-1zM460 417h1v1h-1zM467 417h2v1h-2zM470 417h3v1h-3zM476 417h1v1h-1zM562 417h2v1h-2zM420 418h2v1h-2zM446 418h2v1h-2zM455 418h4v1h-4zM460 418h4v1h-4zM467 418h2v1h-2zM470 418h2v1h-2zM485 418h1v1h-1zM387 419h2v1h-2zM420 419h2v1h-2zM424 419h2v1h-2zM446 419h2v1h-2zM452 419h7v1h-7zM460 419h4v1h-4zM465 419h5v1h-5zM562 419h2v1h-2zM387 420h2v1h-2zM424 420h2v1h-2zM428 420h2v1h-2zM434 420h2v1h-2zM439 420h2v1h-2zM446 420h1v1h-1zM452 420h8v1h-8zM465 420h5v1h-5zM562 420h3v1h-3zM401 421h2v1h-2zM428 421h2v1h-2zM434 421h2v1h-2zM439 421h2v1h-2zM442 421h2v1h-2zM450 421h1v1h-1zM452 421h8v1h-8zM467 421h2v1h-2zM562 421h3v1h-3zM399 422h4v1h-4zM439 422h9v1h-9zM450 422h1v1h-1zM460 422h2v1h-2zM467 422h2v1h-2zM558 422h2v1h-2zM562 422h2v1h-2zM399 423h2v1h-2zM419 423h2v1h-2zM426 423h2v1h-2zM437 423h2v1h-2zM441 423h1v1h-1zM445 423h5v1h-5zM453 423h2v1h-2zM456 423h2v1h-2zM460 423h2v1h-2zM466 423h2v1h-2zM558 423h2v1h-2zM562 423h2v1h-2zM384 424h2v1h-2zM419 424h2v1h-2zM426 424h2v1h-2zM431 424h2v1h-2zM434 424h2v1h-2zM437 424h2v1h-2zM441 424h3v1h-3zM446 424h1v1h-1zM448 424h7v1h-7zM456 424h2v1h-2zM466 424h2v1h-2zM384 425h2v1h-2zM421 425h2v1h-2zM430 425h3v1h-3zM434 425h2v1h-2zM437 425h3v1h-3zM442 425h2v1h-2zM446 425h1v1h-1zM449 425h4v1h-4zM456 425h2v1h-2zM460 425h2v1h-2zM467 425h2v1h-2zM470 425h1v1h-1zM473 425h3v1h-3zM421 426h2v1h-2zM425 426h2v1h-2zM430 426h2v1h-2zM433 426h2v1h-2zM437 426h3v1h-3zM443 426h4v1h-4zM449 426h2v1h-2zM456 426h2v1h-2zM460 426h2v1h-2zM470 426h1v1h-1zM473 426h3v1h-3zM479 426h2v1h-2zM425 427h2v1h-2zM428 427h2v1h-2zM432 427h7v1h-7zM443 427h2v1h-2zM447 427h2v1h-2zM452 427h2v1h-2zM455 427h3v1h-3zM463 427h1v1h-1zM469 427h3v1h-3zM479 427h2v1h-2zM423 428h2v1h-2zM428 428h2v1h-2zM431 428h8v1h-8zM447 428h2v1h-2zM450 428h1v1h-1zM453 428h1v1h-1zM455 428h1v1h-1zM463 428h2v1h-2zM469 428h2v1h-2zM357 429h2v1h-2zM421 429h4v1h-4zM431 429h6v1h-6zM441 429h2v1h-2zM448 429h2v1h-2zM453 429h1v1h-1zM459 429h1v1h-1zM468 429h2v1h-2zM473 429h2v1h-2zM487 429h2v1h-2zM357 430h2v1h-2zM421 430h2v1h-2zM427 430h2v1h-2zM432 430h2v1h-2zM435 430h5v1h-5zM441 430h3v1h-3zM448 430h2v1h-2zM452 430h1v1h-1zM459 430h2v1h-2zM466 430h4v1h-4zM473 430h2v1h-2zM487 430h2v1h-2zM423 431h2v1h-2zM427 431h2v1h-2zM434 431h2v1h-2zM437 431h3v1h-3zM444 431h2v1h-2zM448 431h5v1h-5zM455 431h1v1h-1zM461 431h2v1h-2zM466 431h2v1h-2zM473 431h1v1h-1zM559 431h2v1h-2zM421 432h4v1h-4zM431 432h2v1h-2zM434 432h2v1h-2zM438 432h3v1h-3zM444 432h2v1h-2zM449 432h2v1h-2zM453 432h2v1h-2zM458 432h1v1h-1zM462 432h1v1h-1zM465 432h2v1h-2zM471 432h2v1h-2zM559 432h2v1h-2zM417 433h2v1h-2zM421 433h2v1h-2zM431 433h6v1h-6zM438 433h3v1h-3zM443 433h2v1h-2zM446 433h2v1h-2zM450 433h5v1h-5zM458 433h2v1h-2zM463 433h1v1h-1zM466 433h1v1h-1zM471 433h3v1h-3zM559 433h2v1h-2zM417 434h2v1h-2zM433 434h4v1h-4zM438 434h4v1h-4zM443 434h2v1h-2zM446 434h2v1h-2zM451 434h1v1h-1zM454 434h2v1h-2zM458 434h2v1h-2zM463 434h1v1h-1zM466 434h1v1h-1zM473 434h1v1h-1zM557 434h2v1h-2zM410 435h2v1h-2zM416 435h2v1h-2zM430 435h2v1h-2zM440 435h4v1h-4zM448 435h3v1h-3zM454 435h2v1h-2zM459 435h1v1h-1zM466 435h1v1h-1zM557 435h2v1h-2zM410 436h2v1h-2zM416 436h2v1h-2zM430 436h2v1h-2zM439 436h5v1h-5zM450 436h4v1h-4zM456 436h1v1h-1zM459 436h2v1h-2zM463 436h2v1h-2zM484 436h1v1h-1zM416 437h2v1h-2zM427 437h2v1h-2zM432 437h1v1h-1zM436 437h2v1h-2zM440 437h4v1h-4zM450 437h4v1h-4zM460 437h1v1h-1zM463 437h7v1h-7zM484 437h1v1h-1zM490 437h2v1h-2zM556 437h2v1h-2zM432 438h1v1h-1zM435 438h3v1h-3zM441 438h3v1h-3zM447 438h3v1h-3zM452 438h3v1h-3zM464 438h3v1h-3zM470 438h1v1h-1zM474 438h2v1h-2zM490 438h2v1h-2zM556 438h2v1h-2zM427 439h2v1h-2zM431 439h2v1h-2zM434 439h3v1h-3zM443 439h3v1h-3zM448 439h2v1h-2zM453 439h1v1h-1zM458 439h1v1h-1zM461 439h1v1h-1zM464 439h2v1h-2zM470 439h4v1h-4zM478 439h1v1h-1zM427 440h1v1h-1zM434 440h2v1h-2zM443 440h3v1h-3zM447 440h2v1h-2zM453 440h1v1h-1zM459 440h1v1h-1zM464 440h2v1h-2zM471 440h3v1h-3zM478 440h2v1h-2zM436 441h8v1h-8zM447 441h2v1h-2zM453 441h2v1h-2zM464 441h1v1h-1zM471 441h2v1h-2zM429 442h1v1h-1zM433 442h5v1h-5zM440 442h1v1h-1zM443 442h2v1h-2zM448 442h2v1h-2zM454 442h1v1h-1zM372 443h2v1h-2zM426 443h4v1h-4zM433 443h4v1h-4zM440 443h5v1h-5zM453 443h1v1h-1zM461 443h2v1h-2zM465 443h1v1h-1zM468 443h2v1h-2zM359 444h2v1h-2zM372 444h2v1h-2zM410 444h2v1h-2zM416 444h4v1h-4zM426 444h4v1h-4zM435 444h7v1h-7zM444 444h1v1h-1zM453 444h1v1h-1zM465 444h1v1h-1zM359 445h2v1h-2zM410 445h2v1h-2zM416 445h4v1h-4zM422 445h2v1h-2zM427 445h5v1h-5zM436 445h5v1h-5zM445 445h1v1h-1zM451 445h4v1h-4zM459 445h2v1h-2zM464 445h3v1h-3zM487 445h1v1h-1zM384 446h2v1h-2zM422 446h2v1h-2zM427 446h5v1h-5zM436 446h4v1h-4zM441 446h2v1h-2zM445 446h2v1h-2zM451 446h2v1h-2zM457 446h1v1h-1zM459 446h2v1h-2zM464 446h1v1h-1zM471 446h2v1h-2zM487 446h1v1h-1zM384 447h2v1h-2zM420 447h2v1h-2zM426 447h2v1h-2zM429 447h6v1h-6zM436 447h2v1h-2zM441 447h2v1h-2zM445 447h2v1h-2zM451 447h2v1h-2zM457 447h1v1h-1zM459 447h2v1h-2zM375 448h2v1h-2zM406 448h2v1h-2zM416 448h2v1h-2zM420 448h2v1h-2zM426 448h2v1h-2zM430 448h7v1h-7zM440 448h3v1h-3zM445 448h4v1h-4zM455 448h2v1h-2zM465 448h1v1h-1zM375 449h2v1h-2zM397 449h2v1h-2zM406 449h2v1h-2zM416 449h2v1h-2zM423 449h1v1h-1zM431 449h2v1h-2zM435 449h2v1h-2zM440 449h1v1h-1zM445 449h3v1h-3zM453 449h3v1h-3zM459 449h1v1h-1zM463 449h1v1h-1zM465 449h1v1h-1zM469 449h1v1h-1zM472 449h1v1h-1zM484 449h2v1h-2zM397 450h2v1h-2zM413 450h2v1h-2zM421 450h4v1h-4zM431 450h2v1h-2zM434 450h2v1h-2zM440 450h1v1h-1zM443 450h1v1h-1zM453 450h1v1h-1zM459 450h1v1h-1zM463 450h1v1h-1zM469 450h1v1h-1zM484 450h2v1h-2zM402 451h2v1h-2zM413 451h2v1h-2zM421 451h3v1h-3zM431 451h2v1h-2zM434 451h2v1h-2zM438 451h2v1h-2zM441 451h4v1h-4zM450 451h1v1h-1zM471 451h1v1h-1zM402 452h2v1h-2zM412 452h5v1h-5zM418 452h2v1h-2zM421 452h3v1h-3zM427 452h1v1h-1zM434 452h2v1h-2zM438 452h2v1h-2zM441 452h6v1h-6zM450 452h2v1h-2zM454 452h1v1h-1zM471 452h2v1h-2zM480 452h2v1h-2zM554 452h2v1h-2zM412 453h5v1h-5zM419 453h1v1h-1zM421 453h2v1h-2zM427 453h2v1h-2zM434 453h1v1h-1zM438 453h4v1h-4zM445 453h2v1h-2zM450 453h2v1h-2zM455 453h2v1h-2zM480 453h2v1h-2zM554 453h2v1h-2zM396 454h2v1h-2zM408 454h2v1h-2zM426 454h2v1h-2zM434 454h1v1h-1zM439 454h2v1h-2zM450 454h3v1h-3zM553 454h2v1h-2zM396 455h2v1h-2zM408 455h2v1h-2zM423 455h5v1h-5zM430 455h2v1h-2zM434 455h3v1h-3zM439 455h2v1h-2zM451 455h4v1h-4zM466 455h2v1h-2zM553 455h2v1h-2zM425 456h4v1h-4zM430 456h2v1h-2zM434 456h2v1h-2zM440 456h6v1h-6zM452 456h1v1h-1zM466 456h2v1h-2zM391 457h2v1h-2zM409 457h2v1h-2zM427 457h1v1h-1zM430 457h2v1h-2zM434 457h3v1h-3zM439 457h1v1h-1zM444 457h3v1h-3zM457 457h1v1h-1zM467 457h1v1h-1zM391 458h2v1h-2zM409 458h2v1h-2zM427 458h1v1h-1zM430 458h3v1h-3zM434 458h6v1h-6zM444 458h3v1h-3zM453 458h2v1h-2zM458 458h3v1h-3zM467 458h1v1h-1zM553 458h2v1h-2zM407 459h2v1h-2zM417 459h3v1h-3zM427 459h2v1h-2zM431 459h7v1h-7zM439 459h6v1h-6zM447 459h2v1h-2zM455 459h6v1h-6zM468 459h1v1h-1zM552 459h3v1h-3zM407 460h2v1h-2zM417 460h3v1h-3zM432 460h6v1h-6zM440 460h2v1h-2zM447 460h2v1h-2zM454 460h7v1h-7zM468 460h1v1h-1zM552 460h2v1h-2zM396 461h2v1h-2zM413 461h2v1h-2zM423 461h2v1h-2zM432 461h2v1h-2zM440 461h3v1h-3zM447 461h2v1h-2zM452 461h1v1h-1zM455 461h2v1h-2zM467 461h1v1h-1zM396 462h2v1h-2zM401 462h2v1h-2zM413 462h2v1h-2zM423 462h3v1h-3zM432 462h5v1h-5zM438 462h4v1h-4zM448 462h5v1h-5zM467 462h1v1h-1zM401 463h4v1h-4zM425 463h2v1h-2zM430 463h7v1h-7zM438 463h4v1h-4zM448 463h2v1h-2zM452 463h3v1h-3zM458 463h1v1h-1zM466 463h1v1h-1zM484 463h2v1h-2zM549 463h2v1h-2zM403 464h2v1h-2zM424 464h3v1h-3zM430 464h4v1h-4zM437 464h2v1h-2zM442 464h3v1h-3zM452 464h3v1h-3zM462 464h1v1h-1zM484 464h2v1h-2zM549 464h2v1h-2zM342 465h2v1h-2zM359 465h2v1h-2zM410 465h2v1h-2zM424 465h2v1h-2zM432 465h2v1h-2zM437 465h3v1h-3zM442 465h2v1h-2zM445 465h2v1h-2zM454 465h1v1h-1zM461 465h3v1h-3zM342 466h2v1h-2zM359 466h2v1h-2zM371 466h2v1h-2zM410 466h2v1h-2zM416 466h2v1h-2zM421 466h6v1h-6zM432 466h5v1h-5zM438 466h4v1h-4zM445 466h2v1h-2zM451 466h1v1h-1zM454 466h1v1h-1zM478 466h1v1h-1zM549 466h2v1h-2zM371 467h2v1h-2zM412 467h2v1h-2zM416 467h4v1h-4zM421 467h6v1h-6zM429 467h2v1h-2zM433 467h12v1h-12zM450 467h2v1h-2zM468 467h2v1h-2zM549 467h4v1h-4zM403 468h2v1h-2zM407 468h2v1h-2zM412 468h2v1h-2zM418 468h3v1h-3zM424 468h3v1h-3zM429 468h9v1h-9zM439 468h6v1h-6zM450 468h1v1h-1zM453 468h1v1h-1zM549 468h4v1h-4zM397 469h2v1h-2zM403 469h7v1h-7zM419 469h2v1h-2zM422 469h4v1h-4zM428 469h5v1h-5zM435 469h6v1h-6zM447 469h1v1h-1zM449 469h2v1h-2zM452 469h2v1h-2zM470 469h2v1h-2zM547 469h4v1h-4zM397 470h2v1h-2zM405 470h2v1h-2zM408 470h2v1h-2zM413 470h2v1h-2zM422 470h2v1h-2zM430 470h3v1h-3zM434 470h3v1h-3zM438 470h2v1h-2zM445 470h3v1h-3zM452 470h2v1h-2zM464 470h1v1h-1zM467 470h2v1h-2zM547 470h2v1h-2zM412 471h3v1h-3zM424 471h2v1h-2zM427 471h1v1h-1zM430 471h1v1h-1zM434 471h4v1h-4zM442 471h1v1h-1zM445 471h2v1h-2zM462 471h4v1h-4zM467 471h1v1h-1zM470 471h1v1h-1zM407 472h2v1h-2zM412 472h2v1h-2zM416 472h2v1h-2zM422 472h4v1h-4zM430 472h1v1h-1zM436 472h1v1h-1zM445 472h2v1h-2zM449 472h3v1h-3zM464 472h1v1h-1zM481 472h1v1h-1zM547 472h4v1h-4zM372 473h2v1h-2zM407 473h2v1h-2zM416 473h2v1h-2zM422 473h3v1h-3zM429 473h4v1h-4zM445 473h1v1h-1zM448 473h1v1h-1zM457 473h1v1h-1zM546 473h5v1h-5zM372 474h2v1h-2zM409 474h2v1h-2zM414 474h4v1h-4zM422 474h3v1h-3zM430 474h5v1h-5zM442 474h1v1h-1zM447 474h1v1h-1zM454 474h1v1h-1zM457 474h1v1h-1zM469 474h1v1h-1zM546 474h2v1h-2zM409 475h2v1h-2zM414 475h2v1h-2zM422 475h6v1h-6zM431 475h4v1h-4zM440 475h1v1h-1zM457 475h1v1h-1zM468 475h3v1h-3zM362 476h2v1h-2zM403 476h2v1h-2zM406 476h2v1h-2zM411 476h2v1h-2zM418 476h1v1h-1zM422 476h2v1h-2zM425 476h3v1h-3zM431 476h2v1h-2zM435 476h1v1h-1zM440 476h1v1h-1zM444 476h1v1h-1zM468 476h3v1h-3zM362 477h2v1h-2zM376 477h2v1h-2zM402 477h3v1h-3zM406 477h2v1h-2zM411 477h2v1h-2zM421 477h2v1h-2zM429 477h4v1h-4zM435 477h1v1h-1zM439 477h1v1h-1zM444 477h1v1h-1zM448 477h2v1h-2zM457 477h1v1h-1zM462 477h1v1h-1zM544 477h4v1h-4zM376 478h2v1h-2zM402 478h2v1h-2zM421 478h2v1h-2zM429 478h6v1h-6zM437 478h9v1h-9zM448 478h2v1h-2zM457 478h1v1h-1zM464 478h5v1h-5zM544 478h4v1h-4zM392 479h5v1h-5zM413 479h2v1h-2zM421 479h2v1h-2zM426 479h9v1h-9zM437 479h10v1h-10zM448 479h2v1h-2zM452 479h1v1h-1zM464 479h1v1h-1zM467 479h2v1h-2zM544 479h4v1h-4zM392 480h5v1h-5zM413 480h3v1h-3zM421 480h3v1h-3zM426 480h4v1h-4zM432 480h3v1h-3zM437 480h2v1h-2zM442 480h2v1h-2zM445 480h2v1h-2zM461 480h1v1h-1zM545 480h2v1h-2zM414 481h2v1h-2zM421 481h1v1h-1zM429 481h1v1h-1zM432 481h3v1h-3zM437 481h2v1h-2zM440 481h1v1h-1zM444 481h3v1h-3zM465 481h1v1h-1zM543 481h2v1h-2zM419 482h3v1h-3zM425 482h2v1h-2zM430 482h1v1h-1zM433 482h3v1h-3zM437 482h4v1h-4zM445 482h2v1h-2zM451 482h1v1h-1zM456 482h3v1h-3zM465 482h2v1h-2zM472 482h1v1h-1zM543 482h2v1h-2zM403 483h2v1h-2zM419 483h2v1h-2zM422 483h3v1h-3zM427 483h1v1h-1zM430 483h1v1h-1zM434 483h2v1h-2zM440 483h1v1h-1zM451 483h1v1h-1zM457 483h1v1h-1zM472 483h1v1h-1zM402 484h3v1h-3zM408 484h3v1h-3zM417 484h2v1h-2zM424 484h1v1h-1zM427 484h1v1h-1zM429 484h3v1h-3zM433 484h3v1h-3zM440 484h1v1h-1zM443 484h1v1h-1zM452 484h1v1h-1zM541 484h5v1h-5zM395 485h2v1h-2zM402 485h5v1h-5zM408 485h3v1h-3zM423 485h3v1h-3zM429 485h8v1h-8zM441 485h1v1h-1zM443 485h1v1h-1zM452 485h2v1h-2zM471 485h2v1h-2zM541 485h5v1h-5zM395 486h2v1h-2zM403 486h4v1h-4zM408 486h2v1h-2zM416 486h2v1h-2zM423 486h3v1h-3zM429 486h2v1h-2zM432 486h5v1h-5zM442 486h3v1h-3zM451 486h3v1h-3zM467 486h1v1h-1zM542 486h4v1h-4zM406 487h4v1h-4zM412 487h2v1h-2zM416 487h3v1h-3zM423 487h7v1h-7zM431 487h1v1h-1zM434 487h2v1h-2zM439 487h1v1h-1zM442 487h1v1h-1zM444 487h1v1h-1zM467 487h2v1h-2zM473 487h1v1h-1zM543 487h2v1h-2zM401 488h2v1h-2zM406 488h4v1h-4zM413 488h3v1h-3zM417 488h13v1h-13zM431 488h1v1h-1zM434 488h2v1h-2zM439 488h2v1h-2zM443 488h3v1h-3zM447 488h2v1h-2zM451 488h1v1h-1zM458 488h1v1h-1zM464 488h1v1h-1zM401 489h2v1h-2zM405 489h3v1h-3zM409 489h2v1h-2zM414 489h13v1h-13zM429 489h1v1h-1zM432 489h1v1h-1zM435 489h2v1h-2zM439 489h2v1h-2zM443 489h1v1h-1zM447 489h2v1h-2zM451 489h1v1h-1zM464 489h1v1h-1zM399 490h4v1h-4zM405 490h2v1h-2zM414 490h6v1h-6zM421 490h3v1h-3zM425 490h2v1h-2zM429 490h1v1h-1zM432 490h1v1h-1zM434 490h3v1h-3zM438 490h3v1h-3zM452 490h1v1h-1zM455 490h1v1h-1zM386 491h2v1h-2zM391 491h2v1h-2zM399 491h2v1h-2zM409 491h2v1h-2zM415 491h6v1h-6zM422 491h4v1h-4zM428 491h4v1h-4zM434 491h3v1h-3zM439 491h2v1h-2zM443 491h2v1h-2zM447 491h1v1h-1zM458 491h1v1h-1zM467 491h2v1h-2zM538 491h5v1h-5zM354 492h2v1h-2zM386 492h3v1h-3zM391 492h2v1h-2zM409 492h2v1h-2zM412 492h1v1h-1zM419 492h2v1h-2zM422 492h4v1h-4zM429 492h2v1h-2zM436 492h1v1h-1zM439 492h1v1h-1zM443 492h2v1h-2zM452 492h1v1h-1zM538 492h5v1h-5zM354 493h2v1h-2zM387 493h2v1h-2zM392 493h2v1h-2zM410 493h1v1h-1zM415 493h1v1h-1zM424 493h2v1h-2zM443 493h1v1h-1zM445 493h1v1h-1zM452 493h3v1h-3zM463 493h1v1h-1zM468 493h2v1h-2zM538 493h3v1h-3zM387 494h4v1h-4zM392 494h2v1h-2zM396 494h4v1h-4zM410 494h1v1h-1zM414 494h2v1h-2zM418 494h13v1h-13zM435 494h1v1h-1zM439 494h2v1h-2zM446 494h1v1h-1zM449 494h1v1h-1zM463 494h1v1h-1zM468 494h2v1h-2zM537 494h5v1h-5zM389 495h2v1h-2zM396 495h4v1h-4zM403 495h2v1h-2zM410 495h2v1h-2zM420 495h6v1h-6zM429 495h2v1h-2zM433 495h3v1h-3zM440 495h3v1h-3zM449 495h1v1h-1zM537 495h5v1h-5zM401 496h4v1h-4zM407 496h2v1h-2zM411 496h2v1h-2zM420 496h6v1h-6zM429 496h1v1h-1zM432 496h3v1h-3zM440 496h2v1h-2zM448 496h1v1h-1zM467 496h1v1h-1zM538 496h2v1h-2zM399 497h4v1h-4zM407 497h2v1h-2zM411 497h2v1h-2zM416 497h2v1h-2zM422 497h8v1h-8zM432 497h4v1h-4zM439 497h2v1h-2zM444 497h1v1h-1zM452 497h2v1h-2zM458 497h1v1h-1zM467 497h1v1h-1zM388 498h2v1h-2zM399 498h5v1h-5zM405 498h2v1h-2zM414 498h3v1h-3zM419 498h1v1h-1zM422 498h9v1h-9zM432 498h9v1h-9zM452 498h2v1h-2zM457 498h2v1h-2zM477 498h2v1h-2zM388 499h2v1h-2zM392 499h2v1h-2zM398 499h6v1h-6zM405 499h2v1h-2zM414 499h2v1h-2zM421 499h5v1h-5zM429 499h3v1h-3zM434 499h1v1h-1zM438 499h3v1h-3zM446 499h1v1h-1zM452 499h2v1h-2zM462 499h1v1h-1zM478 499h1v1h-1zM384 500h2v1h-2zM388 500h2v1h-2zM392 500h2v1h-2zM398 500h2v1h-2zM412 500h1v1h-1zM418 500h1v1h-1zM423 500h4v1h-4zM428 500h4v1h-4zM434 500h1v1h-1zM440 500h1v1h-1zM446 500h1v1h-1zM449 500h1v1h-1zM452 500h1v1h-1zM534 500h2v1h-2zM538 500h2v1h-2zM369 501h2v1h-2zM384 501h2v1h-2zM389 501h2v1h-2zM395 501h2v1h-2zM402 501h2v1h-2zM407 501h2v1h-2zM415 501h4v1h-4zM420 501h1v1h-1zM423 501h6v1h-6zM432 501h1v1h-1zM447 501h6v1h-6zM534 501h2v1h-2zM538 501h2v1h-2zM369 502h2v1h-2zM389 502h2v1h-2zM395 502h2v1h-2zM402 502h4v1h-4zM407 502h4v1h-4zM415 502h3v1h-3zM420 502h2v1h-2zM426 502h2v1h-2zM432 502h1v1h-1zM440 502h2v1h-2zM448 502h1v1h-1zM452 502h1v1h-1zM534 502h4v1h-4zM389 503h2v1h-2zM406 503h1v1h-1zM409 503h4v1h-4zM420 503h1v1h-1zM426 503h2v1h-2zM430 503h2v1h-2zM441 503h2v1h-2zM453 503h5v1h-5zM534 503h4v1h-4zM395 504h2v1h-2zM400 504h2v1h-2zM406 504h1v1h-1zM411 504h2v1h-2zM416 504h1v1h-1zM421 504h2v1h-2zM426 504h6v1h-6zM450 504h1v1h-1zM536 504h2v1h-2zM395 505h1v1h-1zM399 505h3v1h-3zM415 505h4v1h-4zM427 505h4v1h-4zM438 505h1v1h-1zM444 505h1v1h-1zM536 505h3v1h-3zM399 506h2v1h-2zM407 506h2v1h-2zM410 506h2v1h-2zM413 506h5v1h-5zM420 506h1v1h-1zM425 506h2v1h-2zM433 506h1v1h-1zM534 506h5v1h-5zM400 507h2v1h-2zM404 507h4v1h-4zM415 507h1v1h-1zM417 507h1v1h-1zM420 507h7v1h-7zM431 507h6v1h-6zM442 507h1v1h-1zM451 507h1v1h-1zM458 507h2v1h-2zM534 507h6v1h-6zM335 508h2v1h-2zM400 508h2v1h-2zM404 508h3v1h-3zM415 508h8v1h-8zM425 508h7v1h-7zM435 508h3v1h-3zM458 508h3v1h-3zM535 508h5v1h-5zM335 509h2v1h-2zM356 509h2v1h-2zM366 509h2v1h-2zM410 509h8v1h-8zM419 509h4v1h-4zM425 509h1v1h-1zM431 509h2v1h-2zM435 509h3v1h-3zM535 509h2v1h-2zM356 510h2v1h-2zM366 510h2v1h-2zM399 510h3v1h-3zM405 510h1v1h-1zM410 510h2v1h-2zM413 510h5v1h-5zM420 510h4v1h-4zM425 510h1v1h-1zM430 510h7v1h-7zM390 511h2v1h-2zM399 511h3v1h-3zM406 511h1v1h-1zM410 511h6v1h-6zM419 511h2v1h-2zM423 511h8v1h-8zM435 511h2v1h-2zM460 511h1v1h-1zM465 511h1v1h-1zM380 512h2v1h-2zM390 512h2v1h-2zM398 512h2v1h-2zM406 512h3v1h-3zM410 512h11v1h-11zM425 512h4v1h-4zM430 512h1v1h-1zM435 512h3v1h-3zM450 512h1v1h-1zM532 512h5v1h-5zM380 513h2v1h-2zM390 513h2v1h-2zM398 513h2v1h-2zM407 513h4v1h-4zM413 513h2v1h-2zM416 513h3v1h-3zM425 513h4v1h-4zM430 513h2v1h-2zM434 513h1v1h-1zM447 513h1v1h-1zM450 513h1v1h-1zM532 513h5v1h-5zM344 514h2v1h-2zM389 514h3v1h-3zM403 514h1v1h-1zM408 514h3v1h-3zM418 514h1v1h-1zM423 514h1v1h-1zM430 514h3v1h-3zM448 514h1v1h-1zM532 514h4v1h-4zM344 515h2v1h-2zM389 515h3v1h-3zM402 515h2v1h-2zM412 515h1v1h-1zM418 515h1v1h-1zM426 515h1v1h-1zM429 515h2v1h-2zM436 515h1v1h-1zM448 515h1v1h-1zM458 515h1v1h-1zM531 515h4v1h-4zM390 516h2v1h-2zM402 516h2v1h-2zM411 516h5v1h-5zM417 516h1v1h-1zM426 516h5v1h-5zM457 516h2v1h-2zM531 516h2v1h-2zM351 517h2v1h-2zM378 517h3v1h-3zM387 517h2v1h-2zM391 517h2v1h-2zM403 517h2v1h-2zM408 517h1v1h-1zM413 517h5v1h-5zM421 517h4v1h-4zM429 517h2v1h-2zM432 517h3v1h-3zM437 517h2v1h-2zM531 517h2v1h-2zM351 518h2v1h-2zM378 518h5v1h-5zM387 518h6v1h-6zM400 518h2v1h-2zM403 518h2v1h-2zM408 518h3v1h-3zM413 518h6v1h-6zM421 518h4v1h-4zM427 518h1v1h-1zM429 518h2v1h-2zM434 518h5v1h-5zM442 518h1v1h-1zM532 518h2v1h-2zM381 519h2v1h-2zM389 519h2v1h-2zM395 519h2v1h-2zM400 519h2v1h-2zM405 519h2v1h-2zM414 519h1v1h-1zM419 519h1v1h-1zM422 519h1v1h-1zM427 519h1v1h-1zM431 519h1v1h-1zM438 519h1v1h-1zM442 519h1v1h-1zM452 519h1v1h-1zM532 519h2v1h-2zM390 520h2v1h-2zM395 520h2v1h-2zM405 520h4v1h-4zM414 520h1v1h-1zM419 520h1v1h-1zM422 520h1v1h-1zM431 520h2v1h-2zM438 520h1v1h-1zM442 520h5v1h-5zM468 520h2v1h-2zM530 520h3v1h-3zM390 521h2v1h-2zM395 521h2v1h-2zM406 521h3v1h-3zM414 521h2v1h-2zM418 521h4v1h-4zM431 521h2v1h-2zM438 521h1v1h-1zM442 521h2v1h-2zM530 521h3v1h-3zM388 522h3v1h-3zM404 522h2v1h-2zM413 522h1v1h-1zM418 522h4v1h-4zM435 522h1v1h-1zM530 522h3v1h-3zM381 523h2v1h-2zM388 523h3v1h-3zM395 523h2v1h-2zM404 523h2v1h-2zM417 523h4v1h-4zM425 523h1v1h-1zM430 523h1v1h-1zM435 523h1v1h-1zM381 524h6v1h-6zM394 524h3v1h-3zM398 524h3v1h-3zM404 524h2v1h-2zM411 524h2v1h-2zM414 524h6v1h-6zM423 524h3v1h-3zM430 524h3v1h-3zM435 524h1v1h-1zM438 524h3v1h-3zM529 524h3v1h-3zM367 525h2v1h-2zM383 525h4v1h-4zM390 525h2v1h-2zM394 525h2v1h-2zM398 525h3v1h-3zM406 525h4v1h-4zM411 525h6v1h-6zM418 525h5v1h-5zM425 525h2v1h-2zM430 525h6v1h-6zM438 525h3v1h-3zM524 525h2v1h-2zM527 525h5v1h-5zM350 526h2v1h-2zM367 526h2v1h-2zM378 526h2v1h-2zM390 526h2v1h-2zM396 526h2v1h-2zM400 526h4v1h-4zM405 526h1v1h-1zM412 526h2v1h-2zM415 526h2v1h-2zM419 526h4v1h-4zM425 526h4v1h-4zM430 526h2v1h-2zM438 526h3v1h-3zM524 526h2v1h-2zM527 526h3v1h-3zM350 527h2v1h-2zM378 527h2v1h-2zM395 527h3v1h-3zM399 527h5v1h-5zM405 527h1v1h-1zM412 527h2v1h-2zM415 527h1v1h-1zM420 527h2v1h-2zM426 527h3v1h-3zM437 527h3v1h-3zM523 527h2v1h-2zM526 527h4v1h-4zM366 528h2v1h-2zM379 528h2v1h-2zM386 528h2v1h-2zM395 528h1v1h-1zM399 528h2v1h-2zM403 528h1v1h-1zM407 528h1v1h-1zM410 528h4v1h-4zM420 528h2v1h-2zM428 528h2v1h-2zM433 528h1v1h-1zM442 528h2v1h-2zM523 528h7v1h-7zM366 529h2v1h-2zM379 529h2v1h-2zM386 529h2v1h-2zM393 529h3v1h-3zM398 529h1v1h-1zM400 529h1v1h-1zM404 529h2v1h-2zM407 529h2v1h-2zM410 529h4v1h-4zM418 529h5v1h-5zM425 529h1v1h-1zM455 529h2v1h-2zM523 529h7v1h-7zM393 530h3v1h-3zM398 530h1v1h-1zM401 530h1v1h-1zM404 530h2v1h-2zM408 530h8v1h-8zM418 530h3v1h-3zM425 530h1v1h-1zM523 530h5v1h-5zM384 531h2v1h-2zM397 531h2v1h-2zM404 531h7v1h-7zM413 531h3v1h-3zM424 531h2v1h-2zM434 531h2v1h-2zM440 531h2v1h-2zM523 531h3v1h-3zM384 532h2v1h-2zM387 532h2v1h-2zM392 532h4v1h-4zM403 532h8v1h-8zM414 532h3v1h-3zM434 532h1v1h-1zM521 532h5v1h-5zM374 533h2v1h-2zM384 533h6v1h-6zM392 533h10v1h-10zM404 533h2v1h-2zM407 533h6v1h-6zM416 533h1v1h-1zM432 533h4v1h-4zM521 533h3v1h-3zM525 533h2v1h-2zM374 534h2v1h-2zM385 534h2v1h-2zM395 534h7v1h-7zM404 534h5v1h-5zM417 534h2v1h-2zM435 534h2v1h-2zM520 534h2v1h-2zM523 534h4v1h-4zM373 535h2v1h-2zM386 535h2v1h-2zM397 535h2v1h-2zM401 535h1v1h-1zM405 535h5v1h-5zM417 535h1v1h-1zM420 535h1v1h-1zM422 535h1v1h-1zM441 535h1v1h-1zM520 535h2v1h-2zM523 535h3v1h-3zM356 536h2v1h-2zM360 536h2v1h-2zM373 536h2v1h-2zM386 536h7v1h-7zM398 536h1v1h-1zM401 536h2v1h-2zM405 536h2v1h-2zM408 536h2v1h-2zM425 536h1v1h-1zM437 536h3v1h-3zM518 536h2v1h-2zM521 536h4v1h-4zM356 537h2v1h-2zM360 537h2v1h-2zM382 537h2v1h-2zM387 537h5v1h-5zM398 537h5v1h-5zM404 537h2v1h-2zM408 537h5v1h-5zM425 537h1v1h-1zM437 537h3v1h-3zM518 537h5v1h-5zM524 537h2v1h-2zM377 538h2v1h-2zM380 538h2v1h-2zM384 538h2v1h-2zM387 538h2v1h-2zM400 538h1v1h-1zM406 538h1v1h-1zM410 538h1v1h-1zM413 538h1v1h-1zM420 538h1v1h-1zM423 538h2v1h-2zM427 538h2v1h-2zM432 538h1v1h-1zM518 538h8v1h-8zM377 539h2v1h-2zM380 539h6v1h-6zM390 539h1v1h-1zM394 539h4v1h-4zM400 539h1v1h-1zM410 539h1v1h-1zM414 539h3v1h-3zM419 539h2v1h-2zM431 539h1v1h-1zM518 539h7v1h-7zM375 540h2v1h-2zM382 540h3v1h-3zM396 540h2v1h-2zM399 540h3v1h-3zM404 540h2v1h-2zM410 540h3v1h-3zM418 540h2v1h-2zM431 540h2v1h-2zM375 541h2v1h-2zM383 541h1v1h-1zM393 541h1v1h-1zM396 541h2v1h-2zM399 541h3v1h-3zM407 541h4v1h-4zM422 541h3v1h-3zM426 541h3v1h-3zM432 541h1v1h-1zM438 541h1v1h-1zM371 542h2v1h-2zM379 542h1v1h-1zM383 542h1v1h-1zM386 542h1v1h-1zM390 542h1v1h-1zM393 542h3v1h-3zM408 542h4v1h-4zM421 542h1v1h-1zM434 542h2v1h-2zM367 543h2v1h-2zM371 543h2v1h-2zM379 543h1v1h-1zM383 543h4v1h-4zM390 543h1v1h-1zM396 543h3v1h-3zM411 543h1v1h-1zM414 543h2v1h-2zM420 543h1v1h-1zM435 543h1v1h-1zM446 543h1v1h-1zM516 543h2v1h-2zM364 544h2v1h-2zM367 544h2v1h-2zM385 544h2v1h-2zM397 544h2v1h-2zM408 544h2v1h-2zM414 544h2v1h-2zM419 544h1v1h-1zM515 544h6v1h-6zM364 545h2v1h-2zM377 545h1v1h-1zM385 545h1v1h-1zM394 545h1v1h-1zM398 545h1v1h-1zM400 545h1v1h-1zM409 545h7v1h-7zM419 545h1v1h-1zM437 545h1v1h-1zM512 545h9v1h-9zM372 546h2v1h-2zM376 546h2v1h-2zM380 546h4v1h-4zM389 546h3v1h-3zM398 546h9v1h-9zM409 546h3v1h-3zM414 546h3v1h-3zM425 546h1v1h-1zM512 546h7v1h-7zM364 547h2v1h-2zM372 547h2v1h-2zM380 547h4v1h-4zM389 547h3v1h-3zM396 547h5v1h-5zM403 547h1v1h-1zM407 547h5v1h-5zM414 547h4v1h-4zM420 547h1v1h-1zM425 547h4v1h-4zM513 547h4v1h-4zM364 548h4v1h-4zM377 548h1v1h-1zM389 548h3v1h-3zM394 548h1v1h-1zM396 548h7v1h-7zM411 548h1v1h-1zM414 548h1v1h-1zM416 548h1v1h-1zM419 548h2v1h-2zM512 548h5v1h-5zM359 549h2v1h-2zM366 549h2v1h-2zM377 549h1v1h-1zM384 549h3v1h-3zM389 549h2v1h-2zM394 549h1v1h-1zM397 549h3v1h-3zM401 549h2v1h-2zM411 549h1v1h-1zM414 549h1v1h-1zM420 549h2v1h-2zM512 549h2v1h-2zM359 550h2v1h-2zM370 550h2v1h-2zM385 550h2v1h-2zM388 550h2v1h-2zM397 550h2v1h-2zM403 550h1v1h-1zM414 550h1v1h-1zM420 550h2v1h-2zM512 550h3v1h-3zM348 551h2v1h-2zM361 551h2v1h-2zM370 551h2v1h-2zM382 551h1v1h-1zM385 551h1v1h-1zM388 551h1v1h-1zM396 551h2v1h-2zM403 551h1v1h-1zM413 551h1v1h-1zM510 551h5v1h-5zM348 552h2v1h-2zM361 552h2v1h-2zM374 552h3v1h-3zM388 552h1v1h-1zM402 552h1v1h-1zM406 552h1v1h-1zM417 552h1v1h-1zM510 552h5v1h-5zM371 553h2v1h-2zM374 553h3v1h-3zM382 553h1v1h-1zM387 553h2v1h-2zM398 553h2v1h-2zM402 553h2v1h-2zM408 553h3v1h-3zM447 553h1v1h-1zM511 553h2v1h-2zM359 554h2v1h-2zM371 554h1v1h-1zM375 554h2v1h-2zM381 554h2v1h-2zM385 554h5v1h-5zM396 554h1v1h-1zM403 554h1v1h-1zM410 554h3v1h-3zM416 554h1v1h-1zM419 554h2v1h-2zM424 554h2v1h-2zM447 554h1v1h-1zM509 554h4v1h-4zM359 555h2v1h-2zM367 555h2v1h-2zM371 555h1v1h-1zM381 555h2v1h-2zM386 555h4v1h-4zM395 555h4v1h-4zM409 555h2v1h-2zM415 555h3v1h-3zM420 555h1v1h-1zM445 555h1v1h-1zM509 555h4v1h-4zM357 556h2v1h-2zM367 556h2v1h-2zM370 556h4v1h-4zM383 556h1v1h-1zM387 556h4v1h-4zM397 556h3v1h-3zM403 556h2v1h-2zM409 556h2v1h-2zM420 556h1v1h-1zM423 556h1v1h-1zM505 556h4v1h-4zM357 557h2v1h-2zM370 557h6v1h-6zM383 557h1v1h-1zM385 557h3v1h-3zM390 557h1v1h-1zM396 557h4v1h-4zM419 557h1v1h-1zM423 557h1v1h-1zM505 557h5v1h-5zM357 558h2v1h-2zM362 558h2v1h-2zM370 558h2v1h-2zM374 558h2v1h-2zM385 558h3v1h-3zM390 558h1v1h-1zM395 558h3v1h-3zM401 558h1v1h-1zM419 558h1v1h-1zM423 558h1v1h-1zM435 558h1v1h-1zM506 558h4v1h-4zM357 559h2v1h-2zM362 559h2v1h-2zM369 559h1v1h-1zM375 559h2v1h-2zM401 559h1v1h-1zM410 559h2v1h-2zM414 559h1v1h-1zM434 559h1v1h-1zM503 559h6v1h-6zM363 560h1v1h-1zM369 560h1v1h-1zM376 560h1v1h-1zM380 560h1v1h-1zM391 560h3v1h-3zM399 560h3v1h-3zM503 560h6v1h-6zM363 561h1v1h-1zM370 561h1v1h-1zM380 561h2v1h-2zM387 561h1v1h-1zM394 561h1v1h-1zM397 561h5v1h-5zM406 561h1v1h-1zM409 561h1v1h-1zM413 561h1v1h-1zM432 561h2v1h-2zM436 561h1v1h-1zM504 561h2v1h-2zM341 562h2v1h-2zM370 562h1v1h-1zM373 562h3v1h-3zM381 562h2v1h-2zM387 562h2v1h-2zM394 562h1v1h-1zM399 562h1v1h-1zM402 562h1v1h-1zM406 562h1v1h-1zM411 562h2v1h-2zM431 562h3v1h-3zM436 562h1v1h-1zM502 562h3v1h-3zM341 563h2v1h-2zM367 563h4v1h-4zM372 563h5v1h-5zM381 563h2v1h-2zM390 563h1v1h-1zM393 563h2v1h-2zM396 563h1v1h-1zM413 563h3v1h-3zM436 563h1v1h-1zM501 563h5v1h-5zM348 564h2v1h-2zM363 564h2v1h-2zM370 564h1v1h-1zM374 564h3v1h-3zM396 564h2v1h-2zM413 564h3v1h-3zM423 564h2v1h-2zM499 564h7v1h-7zM348 565h2v1h-2zM351 565h2v1h-2zM363 565h2v1h-2zM381 565h2v1h-2zM384 565h2v1h-2zM391 565h2v1h-2zM405 565h4v1h-4zM434 565h1v1h-1zM499 565h5v1h-5zM346 566h2v1h-2zM351 566h2v1h-2zM374 566h3v1h-3zM379 566h4v1h-4zM384 566h1v1h-1zM391 566h4v1h-4zM396 566h2v1h-2zM405 566h1v1h-1zM497 566h8v1h-8zM343 567h2v1h-2zM346 567h2v1h-2zM374 567h3v1h-3zM390 567h1v1h-1zM393 567h2v1h-2zM397 567h2v1h-2zM403 567h1v1h-1zM497 567h8v1h-8zM342 568h6v1h-6zM362 568h2v1h-2zM408 568h1v1h-1zM496 568h7v1h-7zM342 569h6v1h-6zM353 569h2v1h-2zM361 569h3v1h-3zM369 569h2v1h-2zM377 569h1v1h-1zM496 569h4v1h-4zM501 569h2v1h-2zM355 570h1v1h-1zM361 570h2v1h-2zM368 570h3v1h-3zM377 570h2v1h-2zM381 570h1v1h-1zM392 570h1v1h-1zM405 570h1v1h-1zM495 570h5v1h-5zM355 571h1v1h-1zM366 571h4v1h-4zM372 571h1v1h-1zM375 571h2v1h-2zM378 571h1v1h-1zM381 571h1v1h-1zM392 571h1v1h-1zM401 571h1v1h-1zM405 571h2v1h-2zM494 571h6v1h-6zM366 572h2v1h-2zM374 572h3v1h-3zM381 572h1v1h-1zM397 572h1v1h-1zM401 572h1v1h-1zM493 572h5v1h-5zM375 573h1v1h-1zM377 573h2v1h-2zM381 573h1v1h-1zM385 573h1v1h-1zM391 573h1v1h-1zM401 573h1v1h-1zM413 573h1v1h-1zM493 573h5v1h-5zM329 574h2v1h-2zM352 574h2v1h-2zM369 574h1v1h-1zM381 574h2v1h-2zM385 574h6v1h-6zM393 574h1v1h-1zM491 574h7v1h-7zM329 575h2v1h-2zM352 575h2v1h-2zM365 575h1v1h-1zM368 575h1v1h-1zM380 575h1v1h-1zM387 575h4v1h-4zM394 575h2v1h-2zM491 575h5v1h-5zM368 576h1v1h-1zM370 576h1v1h-1zM379 576h1v1h-1zM387 576h2v1h-2zM394 576h1v1h-1zM490 576h5v1h-5zM370 577h1v1h-1zM377 577h3v1h-3zM422 577h1v1h-1zM486 577h9v1h-9zM347 578h2v1h-2zM350 578h2v1h-2zM356 578h2v1h-2zM363 578h1v1h-1zM375 578h5v1h-5zM384 578h1v1h-1zM486 578h7v1h-7zM344 579h2v1h-2zM347 579h2v1h-2zM351 579h1v1h-1zM356 579h2v1h-2zM359 579h2v1h-2zM363 579h1v1h-1zM371 579h2v1h-2zM375 579h5v1h-5zM386 579h1v1h-1zM393 579h1v1h-1zM485 579h7v1h-7zM344 580h2v1h-2zM351 580h1v1h-1zM357 580h1v1h-1zM359 580h7v1h-7zM374 580h2v1h-2zM378 580h1v1h-1zM386 580h3v1h-3zM393 580h1v1h-1zM485 580h6v1h-6zM350 581h2v1h-2zM357 581h3v1h-3zM361 581h1v1h-1zM364 581h1v1h-1zM368 581h3v1h-3zM381 581h6v1h-6zM393 581h1v1h-1zM485 581h6v1h-6zM341 582h2v1h-2zM352 582h2v1h-2zM356 582h3v1h-3zM361 582h1v1h-1zM368 582h2v1h-2zM481 582h8v1h-8zM341 583h2v1h-2zM345 583h1v1h-1zM348 583h2v1h-2zM353 583h1v1h-1zM369 583h1v1h-1zM375 583h1v1h-1zM481 583h8v1h-8zM342 584h5v1h-5zM353 584h1v1h-1zM362 584h3v1h-3zM370 584h5v1h-5zM379 584h1v1h-1zM383 584h1v1h-1zM482 584h6v1h-6zM345 585h2v1h-2zM350 585h1v1h-1zM360 585h3v1h-3zM370 585h3v1h-3zM382 585h1v1h-1zM480 585h4v1h-4zM341 586h1v1h-1zM345 586h6v1h-6zM360 586h1v1h-1zM369 586h1v1h-1zM371 586h2v1h-2zM382 586h1v1h-1zM404 586h1v1h-1zM479 586h5v1h-5zM340 587h4v1h-4zM347 587h4v1h-4zM356 587h1v1h-1zM359 587h2v1h-2zM369 587h4v1h-4zM390 587h1v1h-1zM392 587h1v1h-1zM410 587h2v1h-2zM475 587h2v1h-2zM478 587h5v1h-5zM340 588h2v1h-2zM343 588h1v1h-1zM347 588h2v1h-2zM356 588h2v1h-2zM359 588h2v1h-2zM366 588h1v1h-1zM370 588h3v1h-3zM475 588h8v1h-8zM347 589h1v1h-1zM359 589h2v1h-2zM366 589h1v1h-1zM370 589h1v1h-1zM372 589h1v1h-1zM475 589h6v1h-6zM339 590h2v1h-2zM347 590h1v1h-1zM361 590h2v1h-2zM366 590h2v1h-2zM369 590h3v1h-3zM391 590h1v1h-1zM474 590h6v1h-6zM339 591h2v1h-2zM354 591h1v1h-1zM362 591h1v1h-1zM366 591h2v1h-2zM369 591h2v1h-2zM471 591h9v1h-9zM338 592h2v1h-2zM348 592h2v1h-2zM353 592h2v1h-2zM362 592h1v1h-1zM365 592h1v1h-1zM369 592h1v1h-1zM373 592h1v1h-1zM381 592h2v1h-2zM471 592h6v1h-6zM338 593h2v1h-2zM342 593h2v1h-2zM348 593h2v1h-2zM372 593h2v1h-2zM468 593h9v1h-9zM342 594h3v1h-3zM373 594h1v1h-1zM378 594h2v1h-2zM466 594h9v1h-9zM379 595h1v1h-1zM383 595h1v1h-1zM466 595h9v1h-9zM336 596h3v1h-3zM343 596h1v1h-1zM350 596h2v1h-2zM361 596h3v1h-3zM464 596h7v1h-7zM336 597h3v1h-3zM342 597h1v1h-1zM350 597h2v1h-2zM353 597h1v1h-1zM361 597h1v1h-1zM371 597h1v1h-1zM462 597h9v1h-9zM342 598h1v1h-1zM351 598h3v1h-3zM364 598h1v1h-1zM374 598h1v1h-1zM389 598h2v1h-2zM461 598h8v1h-8zM338 599h4v1h-4zM345 599h1v1h-1zM354 599h2v1h-2zM361 599h1v1h-1zM364 599h2v1h-2zM460 599h8v1h-8zM337 600h5v1h-5zM348 600h1v1h-1zM365 600h2v1h-2zM459 600h7v1h-7zM337 601h2v1h-2zM350 601h2v1h-2zM456 601h7v1h-7zM344 602h1v1h-1zM350 602h2v1h-2zM456 602h5v1h-5zM335 603h2v1h-2zM455 603h6v1h-6zM335 604h2v1h-2zM453 604h7v1h-7zM333 605h2v1h-2zM339 605h3v1h-3zM452 605h5v1h-5zM333 606h1v1h-1zM337 606h2v1h-2zM341 606h2v1h-2zM449 606h7v1h-7zM338 607h1v1h-1zM341 607h1v1h-1zM355 607h1v1h-1zM446 607h10v1h-10zM334 608h2v1h-2zM445 608h9v1h-9zM329 609h2v1h-2zM332 609h3v1h-3zM337 609h2v1h-2zM444 609h9v1h-9zM329 610h2v1h-2zM332 610h2v1h-2zM339 610h1v1h-1zM442 610h9v1h-9zM336 611h1v1h-1zM439 611h7v1h-7zM447 611h3v1h-3zM332 612h2v1h-2zM336 612h1v1h-1zM437 612h8v1h-8zM331 613h3v1h-3zM335 613h1v1h-1zM433 613h10v1h-10zM331 614h2v1h-2zM428 614h13v1h-13zM325 615h2v1h-2zM423 615h17v1h-17zM325 616h2v1h-2zM334 616h1v1h-1zM420 616h2v1h-2zM423 616h13v1h-13zM320 617h2v1h-2zM324 617h1v1h-1zM335 617h2v1h-2zM417 617h2v1h-2zM420 617h10v1h-10zM431 617h2v1h-2zM320 618h2v1h-2zM323 618h2v1h-2zM414 618h16v1h-16zM317 619h2v1h-2zM322 619h3v1h-3zM410 619h15v1h-15zM317 620h2v1h-2zM322 620h1v1h-1zM406 620h13v1h-13zM321 621h1v1h-1zM396 621h2v1h-2zM400 621h16v1h-16zM316 622h2v1h-2zM390 622h2v1h-2zM395 622h16v1h-16zM316 623h2v1h-2zM384 623h22v1h-22zM313 624h2v1h-2zM316 624h1v1h-1zM378 624h23v1h-23zM311 625h3v1h-3zM373 625h17v1h-17zM367 626h20v1h-20zM288 627h2v1h-2zM297 627h3v1h-3zM361 627h17v1h-17zM359 628h14v1h-14zM274 629h1v1h-1zM357 629h9v1h-9zM260 630h2v1h-2zM266 630h1v1h-1zM357 630h3v1h-3zM246 631h2v1h-2zM266 631h1v1h-1zM231 632h2v1h-2zM234 632h2v1h-2zM238 632h3v1h-3zM243 632h2v1h-2zM247 632h1v1h-1zM221 633h2v1h-2zM234 633h2v1h-2zM238 633h3v1h-3zM243 633h2v1h-2zM215 634h1v1h-1zM221 634h2v1h-2zM171 635h2v1h-2zM178 635h2v1h-2zM183 635h2v1h-2zM215 635h1v1h-1zM126 636h2v1h-2zM171 636h2v1h-2zM178 636h2v1h-2zM183 636h2v1h-2zM126 637h2v1h-2z"/>
<path fill="none" stroke="#00f" transform="translate(0 .5)" d="M71 626h5M71 615h5M71 603h5M71 592h5M71 581h10M71 569h5M71 558h5M71 547h5M71 535h5M71 524h10M71 513h5M71 501h5M71 490h5M71 479h5M71 467h10M71 456h5M71 445h5M71 433h5M71 422h5M71 411h10M71 399h5M71 388h5M71 377h5M71 365h5M71 354h10M71 343h5M71 331h5M71 320h5M71 309h5M71 297h10M71 286h5M71 275h5M71 263h5M71 252h5M71 241h10M71 229h5M71 218h5M71 207h5M71 195h5M71 184h10M71 173h5M71 161h5M71 150h5M71 139h5M71 127h10M71 116h5M71 105h5M71 93h5M71 82h5M71 71h10"/><path fill="none" stroke="#00f" transform="translate(.5 0)" d="M71 639v-10M81 639v-6M91 639v-6M102 639v-6M112 639v-6M122 639v-10M132 639v-6M142 639v-6M153 639v-6M163 639v-6M173 639v-10M183 639v-6M193 639v-6M204 639v-6M214 639v-6M224 639v-10M234 639v-6M244 639v-6M255 639v-6M265 639v-6M275 639v-10M285 639v-6M295 639v-6M306 639v-6M316 639v-6M326 639v-10M336 639v-6M346 639v-6M357 639v-6M367 639v-6M377 639v-10M387 639v-6M397 639v-6M408 639v-6M418 639v-6M428 639v-10M438 639v-6M448 639v-6M459 639v-6M469 639v-6M479 639v-10M489 639v-6M499 639v-6M510 639v-6M520 639v-6M530 639v-10M540 639v-6M550 639v-6M561 639v-6M571 639v-6M581 639v-10"/>
<rect x="354.5" y="71.5" width="227" height="22" fill="none" stroke="#00f"/></g>
<text class="t" x="149" y="46" textLength="325" lengthAdjust="spacingAndGlyphs">HSTPHOT: Field ic10_u40a01</text>
<text x="60" y="642.5" font-size="12.5" text-anchor="end">0</text><text x="60" y="585.5" font-size="12.5" text-anchor="end">0.05</text><text x="60" y="528.5" font-size="12.5" text-anchor="end">0.1</text><text x="60" y="471.5" font-size="12.5" text-anchor="end">0.15</text><text x="60" y="415.5" font-size="12.5" text-anchor="end">0.2</text><text x="60" y="358.5" font-size="12.5" text-anchor="end">0.25</text><text x="60" y="301.5" font-size="12.5" text-anchor="end">0.3</text><text x="60" y="245.5" font-size="12.5" text-anchor="end">0.35</text><text x="60" y="188.5" font-size="12.5" text-anchor="end">0.4</text><text x="60" y="131.5" font-size="12.5" text-anchor="end">0.45</text><text x="60" y="75.5" font-size="12.5" text-anchor="end">0.5</text>
<text x="71.5" y="652" font-size="12.5" text-anchor="middle">19</text><text x="122.5" y="652" font-size="12.5" text-anchor="middle">20</text><text x="173.5" y="652" font-size="12.5" text-anchor="middle">21</text><text x="224.5" y="652" font-size="12.5" text-anchor="middle">22</text><text x="275.5" y="652" font-size="12.5" text-anchor="middle">23</text><text x="326.5" y="652" font-size="12.5" text-anchor="middle">24</text><text x="377.5" y="652" font-size="12.5" text-anchor="middle">25</text><text x="428.5" y="652" font-size="12.5" text-anchor="middle">26</text><text x="479.5" y="652" font-size="12.5" text-anchor="middle">27</text><text x="530.5" y="652" font-size="12.5" text-anchor="middle">28</text><text x="581.5" y="652" font-size="12.5" text-anchor="middle">29</text>
<text class="tm" x="83" y="94" font-size="16.5" textLength="34" lengthAdjust="spacingAndGlyphs">WF2</text>
<text class="tm" x="367" y="89" font-size="18.5" textLength="66" lengthAdjust="spacingAndGlyphs">ENTRIES</text>
<text class="tm" x="518" y="89" font-size="18.5" textLength="52" lengthAdjust="spacingAndGlyphs">15152</text>
<text class="tm" x="518" y="89" font-size="18.5" textLength="52" lengthAdjust="spacingAndGlyphs">15644</text>
<text class="th" x="292.5" y="675" font-size="21.5" textLength="69" lengthAdjust="spacingAndGlyphs">F555W</text>
<text class="th" transform="translate(29.5 255) rotate(-90)" font-size="20.5" textLength="184" lengthAdjust="spacingAndGlyphs">photometric error</text>
</svg>
</body></html>
